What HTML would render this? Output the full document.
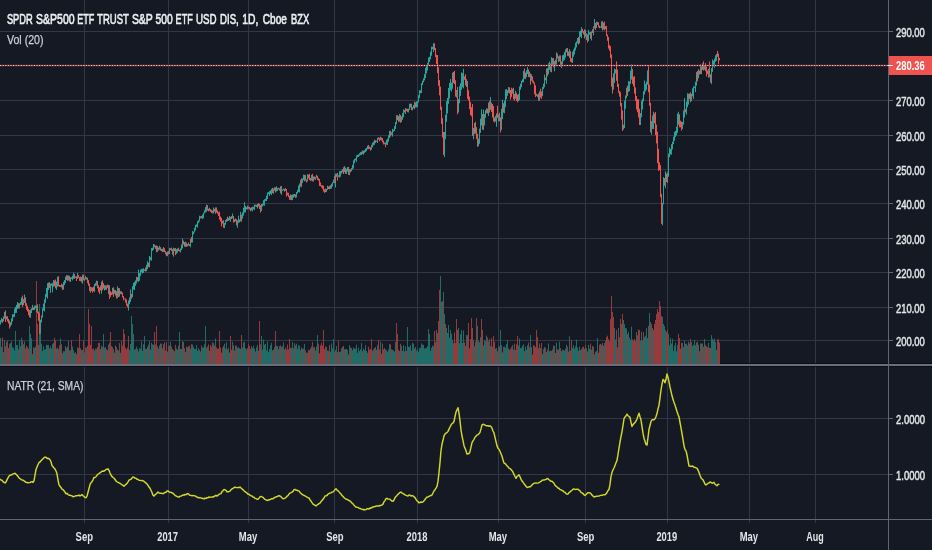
<!DOCTYPE html>
<html lang="en"><head><meta charset="utf-8"><title>SPY chart</title>
<style>html,body{margin:0;padding:0;background:#151924;}body{width:932px;height:550px;overflow:hidden;}</style>
</head><body>
<svg width="932" height="550" viewBox="0 0 932 550" style="display:block">
<rect width="932" height="550" fill="#151924"/>
<defs><filter id="soft" x="-2%" y="-2%" width="104%" height="104%"><feGaussianBlur stdDeviation="0.5 0.3"/></filter></defs>
<g stroke="#333745" stroke-width="1" shape-rendering="crispEdges">
<line x1="84.5" y1="0" x2="84.5" y2="523"/>
<line x1="168.5" y1="0" x2="168.5" y2="523"/>
<line x1="248.5" y1="0" x2="248.5" y2="523"/>
<line x1="334.5" y1="0" x2="334.5" y2="523"/>
<line x1="417.5" y1="0" x2="417.5" y2="523"/>
<line x1="498.5" y1="0" x2="498.5" y2="523"/>
<line x1="585.5" y1="0" x2="585.5" y2="523"/>
<line x1="667.5" y1="0" x2="667.5" y2="523"/>
<line x1="749.5" y1="0" x2="749.5" y2="523"/>
<line x1="815.5" y1="0" x2="815.5" y2="523"/>
<line x1="0" y1="31.5" x2="888" y2="31.5"/>
<line x1="0" y1="100.5" x2="888" y2="100.5"/>
<line x1="0" y1="135.5" x2="888" y2="135.5"/>
<line x1="0" y1="169.5" x2="888" y2="169.5"/>
<line x1="0" y1="203.5" x2="888" y2="203.5"/>
<line x1="0" y1="238.5" x2="888" y2="238.5"/>
<line x1="0" y1="272.5" x2="888" y2="272.5"/>
<line x1="0" y1="307.5" x2="888" y2="307.5"/>
<line x1="0" y1="340.5" x2="888" y2="340.5"/>
<line x1="0" y1="418.5" x2="888" y2="418.5"/>
<line x1="0" y1="474.5" x2="888" y2="474.5"/>
</g>
<rect x="0" y="363" width="932" height="1" fill="#0c0e18"/>
<g filter="url(#soft)">
<rect x="0" y="337.9" width="1" height="26.1" fill="#226c68"/>
<rect x="1" y="347.0" width="1" height="17.0" fill="#226c68"/>
<rect x="2" y="337.5" width="1" height="26.5" fill="#953a3e"/>
<rect x="3" y="352.2" width="1" height="11.8" fill="#226c68"/>
<rect x="4" y="340.1" width="1" height="23.9" fill="#226c68"/>
<rect x="5" y="346.2" width="1" height="17.8" fill="#953a3e"/>
<rect x="6" y="341.8" width="1" height="22.2" fill="#226c68"/>
<rect x="7" y="340.8" width="1" height="23.2" fill="#953a3e"/>
<rect x="8" y="348.1" width="1" height="15.9" fill="#953a3e"/>
<rect x="9" y="344.2" width="1" height="19.8" fill="#953a3e"/>
<rect x="10" y="342.9" width="1" height="21.1" fill="#226c68"/>
<rect x="11" y="341.4" width="1" height="22.6" fill="#226c68"/>
<rect x="12" y="347.4" width="1" height="16.6" fill="#226c68"/>
<rect x="13" y="347.6" width="1" height="16.4" fill="#226c68"/>
<rect x="14" y="350.4" width="1" height="13.6" fill="#226c68"/>
<rect x="15" y="330.9" width="1" height="33.1" fill="#226c68"/>
<rect x="16" y="344.9" width="1" height="19.1" fill="#226c68"/>
<rect x="17" y="345.0" width="1" height="19.0" fill="#226c68"/>
<rect x="18" y="349.3" width="1" height="14.7" fill="#953a3e"/>
<rect x="19" y="340.2" width="1" height="23.8" fill="#226c68"/>
<rect x="20" y="346.3" width="1" height="17.7" fill="#226c68"/>
<rect x="21" y="337.8" width="1" height="26.2" fill="#226c68"/>
<rect x="22" y="340.7" width="1" height="23.3" fill="#953a3e"/>
<rect x="23" y="344.3" width="1" height="19.7" fill="#226c68"/>
<rect x="24" y="341.4" width="1" height="22.6" fill="#226c68"/>
<rect x="25" y="348.4" width="1" height="15.6" fill="#953a3e"/>
<rect x="26" y="345.7" width="1" height="18.3" fill="#953a3e"/>
<rect x="27" y="346.7" width="1" height="17.3" fill="#953a3e"/>
<rect x="28" y="348.9" width="1" height="15.1" fill="#953a3e"/>
<rect x="29" y="326.0" width="1" height="38.0" fill="#226c68"/>
<rect x="30" y="334.0" width="1" height="30.0" fill="#226c68"/>
<rect x="31" y="338.3" width="1" height="25.7" fill="#226c68"/>
<rect x="32" y="354.1" width="1" height="9.9" fill="#226c68"/>
<rect x="33" y="347.2" width="1" height="16.8" fill="#953a3e"/>
<rect x="34" y="348.0" width="1" height="16.0" fill="#226c68"/>
<rect x="35" y="346.6" width="1" height="17.4" fill="#226c68"/>
<rect x="36" y="281.0" width="1" height="83.0" fill="#953a3e"/>
<rect x="37" y="324.0" width="1" height="40.0" fill="#953a3e"/>
<rect x="38" y="344.9" width="1" height="19.1" fill="#953a3e"/>
<rect x="39" y="304.0" width="1" height="60.0" fill="#226c68"/>
<rect x="40" y="326.0" width="1" height="38.0" fill="#226c68"/>
<rect x="41" y="343.7" width="1" height="20.3" fill="#226c68"/>
<rect x="42" y="350.9" width="1" height="13.1" fill="#226c68"/>
<rect x="43" y="346.1" width="1" height="17.9" fill="#226c68"/>
<rect x="44" y="349.7" width="1" height="14.3" fill="#226c68"/>
<rect x="45" y="349.2" width="1" height="14.8" fill="#226c68"/>
<rect x="46" y="344.7" width="1" height="19.3" fill="#226c68"/>
<rect x="47" y="345.1" width="1" height="18.9" fill="#226c68"/>
<rect x="48" y="344.9" width="1" height="19.1" fill="#226c68"/>
<rect x="49" y="348.4" width="1" height="15.6" fill="#953a3e"/>
<rect x="50" y="346.2" width="1" height="17.8" fill="#226c68"/>
<rect x="51" y="348.6" width="1" height="15.4" fill="#226c68"/>
<rect x="52" y="344.1" width="1" height="19.9" fill="#226c68"/>
<rect x="53" y="342.8" width="1" height="21.2" fill="#226c68"/>
<rect x="54" y="337.9" width="1" height="26.1" fill="#953a3e"/>
<rect x="55" y="340.3" width="1" height="23.7" fill="#953a3e"/>
<rect x="56" y="348.6" width="1" height="15.4" fill="#226c68"/>
<rect x="57" y="347.6" width="1" height="16.4" fill="#226c68"/>
<rect x="58" y="349.3" width="1" height="14.7" fill="#953a3e"/>
<rect x="59" y="345.4" width="1" height="18.6" fill="#953a3e"/>
<rect x="60" y="338.3" width="1" height="25.7" fill="#226c68"/>
<rect x="61" y="344.3" width="1" height="19.7" fill="#953a3e"/>
<rect x="62" y="353.1" width="1" height="10.9" fill="#953a3e"/>
<rect x="63" y="351.1" width="1" height="12.9" fill="#226c68"/>
<rect x="64" y="351.3" width="1" height="12.7" fill="#226c68"/>
<rect x="65" y="346.0" width="1" height="18.0" fill="#226c68"/>
<rect x="66" y="347.8" width="1" height="16.2" fill="#226c68"/>
<rect x="67" y="346.8" width="1" height="17.2" fill="#953a3e"/>
<rect x="68" y="340.9" width="1" height="23.1" fill="#226c68"/>
<rect x="69" y="350.3" width="1" height="13.7" fill="#953a3e"/>
<rect x="70" y="350.3" width="1" height="13.7" fill="#226c68"/>
<rect x="71" y="340.0" width="1" height="24.0" fill="#953a3e"/>
<rect x="72" y="346.7" width="1" height="17.3" fill="#226c68"/>
<rect x="73" y="350.1" width="1" height="13.9" fill="#226c68"/>
<rect x="74" y="353.2" width="1" height="10.8" fill="#953a3e"/>
<rect x="75" y="352.1" width="1" height="11.9" fill="#226c68"/>
<rect x="76" y="354.1" width="1" height="9.9" fill="#953a3e"/>
<rect x="77" y="347.6" width="1" height="16.4" fill="#226c68"/>
<rect x="78" y="347.7" width="1" height="16.3" fill="#953a3e"/>
<rect x="79" y="334.0" width="1" height="30.0" fill="#953a3e"/>
<rect x="80" y="348.2" width="1" height="15.8" fill="#226c68"/>
<rect x="81" y="349.9" width="1" height="14.1" fill="#953a3e"/>
<rect x="82" y="350.0" width="1" height="14.0" fill="#226c68"/>
<rect x="83" y="340.3" width="1" height="23.7" fill="#953a3e"/>
<rect x="84" y="352.6" width="1" height="11.4" fill="#226c68"/>
<rect x="85" y="347.2" width="1" height="16.8" fill="#953a3e"/>
<rect x="86" y="347.7" width="1" height="16.3" fill="#226c68"/>
<rect x="87" y="345.7" width="1" height="18.3" fill="#953a3e"/>
<rect x="88" y="309.0" width="1" height="55.0" fill="#953a3e"/>
<rect x="89" y="324.0" width="1" height="40.0" fill="#953a3e"/>
<rect x="90" y="344.9" width="1" height="19.1" fill="#953a3e"/>
<rect x="91" y="326.0" width="1" height="38.0" fill="#953a3e"/>
<rect x="92" y="349.2" width="1" height="14.8" fill="#953a3e"/>
<rect x="93" y="348.4" width="1" height="15.6" fill="#953a3e"/>
<rect x="94" y="350.6" width="1" height="13.4" fill="#226c68"/>
<rect x="95" y="348.5" width="1" height="15.5" fill="#226c68"/>
<rect x="96" y="348.7" width="1" height="15.3" fill="#226c68"/>
<rect x="97" y="347.1" width="1" height="16.9" fill="#953a3e"/>
<rect x="98" y="342.8" width="1" height="21.2" fill="#953a3e"/>
<rect x="99" y="343.0" width="1" height="21.0" fill="#953a3e"/>
<rect x="100" y="349.2" width="1" height="14.8" fill="#953a3e"/>
<rect x="101" y="345.7" width="1" height="18.3" fill="#226c68"/>
<rect x="102" y="346.8" width="1" height="17.2" fill="#953a3e"/>
<rect x="103" y="334.0" width="1" height="30.0" fill="#226c68"/>
<rect x="104" y="347.7" width="1" height="16.3" fill="#226c68"/>
<rect x="105" y="346.9" width="1" height="17.1" fill="#226c68"/>
<rect x="106" y="349.2" width="1" height="14.8" fill="#953a3e"/>
<rect x="107" y="350.2" width="1" height="13.8" fill="#953a3e"/>
<rect x="108" y="344.7" width="1" height="19.3" fill="#226c68"/>
<rect x="109" y="343.0" width="1" height="21.0" fill="#953a3e"/>
<rect x="110" y="332.0" width="1" height="32.0" fill="#953a3e"/>
<rect x="111" y="346.3" width="1" height="17.7" fill="#953a3e"/>
<rect x="112" y="346.9" width="1" height="17.1" fill="#226c68"/>
<rect x="113" y="349.2" width="1" height="14.8" fill="#953a3e"/>
<rect x="114" y="352.7" width="1" height="11.3" fill="#226c68"/>
<rect x="115" y="345.5" width="1" height="18.5" fill="#953a3e"/>
<rect x="116" y="347.1" width="1" height="16.9" fill="#953a3e"/>
<rect x="117" y="349.5" width="1" height="14.5" fill="#226c68"/>
<rect x="118" y="350.6" width="1" height="13.4" fill="#953a3e"/>
<rect x="119" y="343.1" width="1" height="20.9" fill="#226c68"/>
<rect x="120" y="352.7" width="1" height="11.3" fill="#226c68"/>
<rect x="121" y="341.0" width="1" height="23.0" fill="#953a3e"/>
<rect x="122" y="345.6" width="1" height="18.4" fill="#953a3e"/>
<rect x="123" y="329.0" width="1" height="35.0" fill="#953a3e"/>
<rect x="124" y="334.0" width="1" height="30.0" fill="#953a3e"/>
<rect x="125" y="347.9" width="1" height="16.1" fill="#953a3e"/>
<rect x="126" y="349.4" width="1" height="14.6" fill="#953a3e"/>
<rect x="127" y="347.3" width="1" height="16.7" fill="#953a3e"/>
<rect x="128" y="336.0" width="1" height="28.0" fill="#953a3e"/>
<rect x="129" y="350.1" width="1" height="13.9" fill="#226c68"/>
<rect x="130" y="343.9" width="1" height="20.1" fill="#226c68"/>
<rect x="131" y="316.0" width="1" height="48.0" fill="#226c68"/>
<rect x="132" y="324.0" width="1" height="40.0" fill="#226c68"/>
<rect x="133" y="334.0" width="1" height="30.0" fill="#226c68"/>
<rect x="134" y="349.5" width="1" height="14.5" fill="#226c68"/>
<rect x="135" y="349.1" width="1" height="14.9" fill="#226c68"/>
<rect x="136" y="346.6" width="1" height="17.4" fill="#226c68"/>
<rect x="137" y="348.9" width="1" height="15.1" fill="#953a3e"/>
<rect x="138" y="351.4" width="1" height="12.6" fill="#226c68"/>
<rect x="139" y="348.1" width="1" height="15.9" fill="#226c68"/>
<rect x="140" y="348.5" width="1" height="15.5" fill="#226c68"/>
<rect x="141" y="341.2" width="1" height="22.8" fill="#226c68"/>
<rect x="142" y="351.0" width="1" height="13.0" fill="#226c68"/>
<rect x="143" y="344.3" width="1" height="19.7" fill="#226c68"/>
<rect x="144" y="336.0" width="1" height="28.0" fill="#226c68"/>
<rect x="145" y="348.9" width="1" height="15.1" fill="#953a3e"/>
<rect x="146" y="348.8" width="1" height="15.2" fill="#226c68"/>
<rect x="147" y="346.9" width="1" height="17.1" fill="#226c68"/>
<rect x="148" y="344.7" width="1" height="19.3" fill="#953a3e"/>
<rect x="149" y="340.9" width="1" height="23.1" fill="#226c68"/>
<rect x="150" y="349.7" width="1" height="14.3" fill="#226c68"/>
<rect x="151" y="342.8" width="1" height="21.2" fill="#226c68"/>
<rect x="152" y="344.2" width="1" height="19.8" fill="#226c68"/>
<rect x="153" y="344.9" width="1" height="19.1" fill="#226c68"/>
<rect x="154" y="332.0" width="1" height="32.0" fill="#953a3e"/>
<rect x="155" y="344.5" width="1" height="19.5" fill="#953a3e"/>
<rect x="156" y="326.0" width="1" height="38.0" fill="#953a3e"/>
<rect x="157" y="346.5" width="1" height="17.5" fill="#226c68"/>
<rect x="158" y="348.6" width="1" height="15.4" fill="#953a3e"/>
<rect x="159" y="345.4" width="1" height="18.6" fill="#226c68"/>
<rect x="160" y="343.6" width="1" height="20.4" fill="#953a3e"/>
<rect x="161" y="343.6" width="1" height="20.4" fill="#226c68"/>
<rect x="162" y="348.3" width="1" height="15.7" fill="#953a3e"/>
<rect x="163" y="344.1" width="1" height="19.9" fill="#226c68"/>
<rect x="164" y="342.2" width="1" height="21.8" fill="#953a3e"/>
<rect x="165" y="350.5" width="1" height="13.5" fill="#953a3e"/>
<rect x="166" y="342.1" width="1" height="21.9" fill="#953a3e"/>
<rect x="167" y="351.5" width="1" height="12.5" fill="#226c68"/>
<rect x="168" y="345.8" width="1" height="18.2" fill="#953a3e"/>
<rect x="169" y="345.6" width="1" height="18.4" fill="#226c68"/>
<rect x="170" y="342.0" width="1" height="22.0" fill="#226c68"/>
<rect x="171" y="346.7" width="1" height="17.3" fill="#953a3e"/>
<rect x="172" y="349.1" width="1" height="14.9" fill="#953a3e"/>
<rect x="173" y="350.0" width="1" height="14.0" fill="#226c68"/>
<rect x="174" y="351.3" width="1" height="12.7" fill="#226c68"/>
<rect x="175" y="344.9" width="1" height="19.1" fill="#953a3e"/>
<rect x="176" y="348.4" width="1" height="15.6" fill="#226c68"/>
<rect x="177" y="349.8" width="1" height="14.2" fill="#226c68"/>
<rect x="178" y="345.8" width="1" height="18.2" fill="#953a3e"/>
<rect x="179" y="332.0" width="1" height="32.0" fill="#226c68"/>
<rect x="180" y="349.0" width="1" height="15.0" fill="#226c68"/>
<rect x="181" y="349.0" width="1" height="15.0" fill="#226c68"/>
<rect x="182" y="341.2" width="1" height="22.8" fill="#226c68"/>
<rect x="183" y="342.0" width="1" height="22.0" fill="#953a3e"/>
<rect x="184" y="348.1" width="1" height="15.9" fill="#953a3e"/>
<rect x="185" y="352.0" width="1" height="12.0" fill="#226c68"/>
<rect x="186" y="346.6" width="1" height="17.4" fill="#953a3e"/>
<rect x="187" y="347.3" width="1" height="16.7" fill="#226c68"/>
<rect x="188" y="346.4" width="1" height="17.6" fill="#953a3e"/>
<rect x="189" y="345.6" width="1" height="18.4" fill="#226c68"/>
<rect x="190" y="348.6" width="1" height="15.4" fill="#226c68"/>
<rect x="191" y="344.2" width="1" height="19.8" fill="#953a3e"/>
<rect x="192" y="344.5" width="1" height="19.5" fill="#226c68"/>
<rect x="193" y="346.8" width="1" height="17.2" fill="#226c68"/>
<rect x="194" y="348.8" width="1" height="15.2" fill="#226c68"/>
<rect x="195" y="349.0" width="1" height="15.0" fill="#226c68"/>
<rect x="196" y="345.1" width="1" height="18.9" fill="#226c68"/>
<rect x="197" y="350.8" width="1" height="13.2" fill="#226c68"/>
<rect x="198" y="348.0" width="1" height="16.0" fill="#226c68"/>
<rect x="199" y="349.8" width="1" height="14.2" fill="#226c68"/>
<rect x="200" y="351.5" width="1" height="12.5" fill="#226c68"/>
<rect x="201" y="345.4" width="1" height="18.6" fill="#953a3e"/>
<rect x="202" y="347.6" width="1" height="16.4" fill="#226c68"/>
<rect x="203" y="347.4" width="1" height="16.6" fill="#226c68"/>
<rect x="204" y="344.3" width="1" height="19.7" fill="#226c68"/>
<rect x="205" y="326.0" width="1" height="38.0" fill="#226c68"/>
<rect x="206" y="347.7" width="1" height="16.3" fill="#226c68"/>
<rect x="207" y="346.5" width="1" height="17.5" fill="#953a3e"/>
<rect x="208" y="344.5" width="1" height="19.5" fill="#953a3e"/>
<rect x="209" y="350.7" width="1" height="13.3" fill="#226c68"/>
<rect x="210" y="344.9" width="1" height="19.1" fill="#953a3e"/>
<rect x="211" y="346.7" width="1" height="17.3" fill="#953a3e"/>
<rect x="212" y="342.3" width="1" height="21.7" fill="#953a3e"/>
<rect x="213" y="343.2" width="1" height="20.8" fill="#226c68"/>
<rect x="214" y="345.5" width="1" height="18.5" fill="#953a3e"/>
<rect x="215" y="338.5" width="1" height="25.5" fill="#226c68"/>
<rect x="216" y="347.4" width="1" height="16.6" fill="#953a3e"/>
<rect x="217" y="348.8" width="1" height="15.2" fill="#953a3e"/>
<rect x="218" y="348.5" width="1" height="15.5" fill="#953a3e"/>
<rect x="219" y="331.0" width="1" height="33.0" fill="#953a3e"/>
<rect x="220" y="347.5" width="1" height="16.5" fill="#953a3e"/>
<rect x="221" y="352.6" width="1" height="11.4" fill="#953a3e"/>
<rect x="222" y="347.7" width="1" height="16.3" fill="#226c68"/>
<rect x="223" y="345.9" width="1" height="18.1" fill="#953a3e"/>
<rect x="224" y="343.7" width="1" height="20.3" fill="#226c68"/>
<rect x="225" y="348.5" width="1" height="15.5" fill="#226c68"/>
<rect x="226" y="342.1" width="1" height="21.9" fill="#226c68"/>
<rect x="227" y="349.4" width="1" height="14.6" fill="#953a3e"/>
<rect x="228" y="347.8" width="1" height="16.2" fill="#226c68"/>
<rect x="229" y="352.6" width="1" height="11.4" fill="#226c68"/>
<rect x="230" y="336.0" width="1" height="28.0" fill="#953a3e"/>
<rect x="231" y="349.8" width="1" height="14.2" fill="#953a3e"/>
<rect x="232" y="341.7" width="1" height="22.3" fill="#226c68"/>
<rect x="233" y="345.5" width="1" height="18.5" fill="#953a3e"/>
<rect x="234" y="350.6" width="1" height="13.4" fill="#953a3e"/>
<rect x="235" y="345.5" width="1" height="18.5" fill="#226c68"/>
<rect x="236" y="345.7" width="1" height="18.3" fill="#953a3e"/>
<rect x="237" y="348.1" width="1" height="15.9" fill="#226c68"/>
<rect x="238" y="347.2" width="1" height="16.8" fill="#226c68"/>
<rect x="239" y="348.3" width="1" height="15.7" fill="#226c68"/>
<rect x="240" y="349.0" width="1" height="15.0" fill="#226c68"/>
<rect x="241" y="335.0" width="1" height="29.0" fill="#953a3e"/>
<rect x="242" y="347.6" width="1" height="16.4" fill="#226c68"/>
<rect x="243" y="342.5" width="1" height="21.5" fill="#226c68"/>
<rect x="244" y="341.9" width="1" height="22.1" fill="#226c68"/>
<rect x="245" y="348.2" width="1" height="15.8" fill="#226c68"/>
<rect x="246" y="349.5" width="1" height="14.5" fill="#953a3e"/>
<rect x="247" y="348.0" width="1" height="16.0" fill="#226c68"/>
<rect x="248" y="344.1" width="1" height="19.9" fill="#953a3e"/>
<rect x="249" y="346.1" width="1" height="17.9" fill="#953a3e"/>
<rect x="250" y="349.1" width="1" height="14.9" fill="#226c68"/>
<rect x="251" y="346.1" width="1" height="17.9" fill="#953a3e"/>
<rect x="252" y="348.0" width="1" height="16.0" fill="#226c68"/>
<rect x="253" y="345.6" width="1" height="18.4" fill="#226c68"/>
<rect x="254" y="348.6" width="1" height="15.4" fill="#226c68"/>
<rect x="255" y="351.5" width="1" height="12.5" fill="#953a3e"/>
<rect x="256" y="347.2" width="1" height="16.8" fill="#226c68"/>
<rect x="257" y="344.8" width="1" height="19.2" fill="#226c68"/>
<rect x="258" y="350.7" width="1" height="13.3" fill="#953a3e"/>
<rect x="259" y="321.0" width="1" height="43.0" fill="#953a3e"/>
<rect x="260" y="344.4" width="1" height="19.6" fill="#953a3e"/>
<rect x="261" y="336.0" width="1" height="28.0" fill="#226c68"/>
<rect x="262" y="349.5" width="1" height="14.5" fill="#226c68"/>
<rect x="263" y="339.5" width="1" height="24.5" fill="#226c68"/>
<rect x="264" y="344.7" width="1" height="19.3" fill="#226c68"/>
<rect x="265" y="343.9" width="1" height="20.1" fill="#226c68"/>
<rect x="266" y="350.4" width="1" height="13.6" fill="#226c68"/>
<rect x="267" y="341.5" width="1" height="22.5" fill="#226c68"/>
<rect x="268" y="352.2" width="1" height="11.8" fill="#226c68"/>
<rect x="269" y="349.2" width="1" height="14.8" fill="#226c68"/>
<rect x="270" y="345.2" width="1" height="18.8" fill="#226c68"/>
<rect x="271" y="342.9" width="1" height="21.1" fill="#226c68"/>
<rect x="272" y="350.4" width="1" height="13.6" fill="#953a3e"/>
<rect x="273" y="349.7" width="1" height="14.3" fill="#226c68"/>
<rect x="274" y="347.1" width="1" height="16.9" fill="#226c68"/>
<rect x="275" y="331.0" width="1" height="33.0" fill="#953a3e"/>
<rect x="276" y="345.7" width="1" height="18.3" fill="#226c68"/>
<rect x="277" y="346.0" width="1" height="18.0" fill="#226c68"/>
<rect x="278" y="349.2" width="1" height="14.8" fill="#226c68"/>
<rect x="279" y="346.1" width="1" height="17.9" fill="#953a3e"/>
<rect x="280" y="345.3" width="1" height="18.7" fill="#953a3e"/>
<rect x="281" y="346.9" width="1" height="17.1" fill="#226c68"/>
<rect x="282" y="346.2" width="1" height="17.8" fill="#226c68"/>
<rect x="283" y="342.5" width="1" height="21.5" fill="#226c68"/>
<rect x="284" y="349.4" width="1" height="14.6" fill="#226c68"/>
<rect x="285" y="347.5" width="1" height="16.5" fill="#953a3e"/>
<rect x="286" y="349.6" width="1" height="14.4" fill="#953a3e"/>
<rect x="287" y="344.5" width="1" height="19.5" fill="#953a3e"/>
<rect x="288" y="349.3" width="1" height="14.7" fill="#953a3e"/>
<rect x="289" y="339.0" width="1" height="25.0" fill="#953a3e"/>
<rect x="290" y="347.7" width="1" height="16.3" fill="#226c68"/>
<rect x="291" y="347.9" width="1" height="16.1" fill="#953a3e"/>
<rect x="292" y="341.9" width="1" height="22.1" fill="#226c68"/>
<rect x="293" y="348.4" width="1" height="15.6" fill="#226c68"/>
<rect x="294" y="343.2" width="1" height="20.8" fill="#226c68"/>
<rect x="295" y="345.5" width="1" height="18.5" fill="#953a3e"/>
<rect x="296" y="343.7" width="1" height="20.3" fill="#226c68"/>
<rect x="297" y="348.8" width="1" height="15.2" fill="#226c68"/>
<rect x="298" y="345.2" width="1" height="18.8" fill="#226c68"/>
<rect x="299" y="345.8" width="1" height="18.2" fill="#226c68"/>
<rect x="300" y="350.1" width="1" height="13.9" fill="#226c68"/>
<rect x="301" y="347.5" width="1" height="16.5" fill="#953a3e"/>
<rect x="302" y="348.7" width="1" height="15.3" fill="#226c68"/>
<rect x="303" y="348.4" width="1" height="15.6" fill="#226c68"/>
<rect x="304" y="343.9" width="1" height="20.1" fill="#226c68"/>
<rect x="305" y="350.4" width="1" height="13.6" fill="#953a3e"/>
<rect x="306" y="352.7" width="1" height="11.3" fill="#953a3e"/>
<rect x="307" y="352.8" width="1" height="11.2" fill="#226c68"/>
<rect x="308" y="349.7" width="1" height="14.3" fill="#953a3e"/>
<rect x="309" y="350.2" width="1" height="13.8" fill="#953a3e"/>
<rect x="310" y="348.3" width="1" height="15.7" fill="#953a3e"/>
<rect x="311" y="346.5" width="1" height="17.5" fill="#226c68"/>
<rect x="312" y="342.0" width="1" height="22.0" fill="#953a3e"/>
<rect x="313" y="347.4" width="1" height="16.6" fill="#226c68"/>
<rect x="314" y="346.9" width="1" height="17.1" fill="#953a3e"/>
<rect x="315" y="350.4" width="1" height="13.6" fill="#226c68"/>
<rect x="316" y="346.5" width="1" height="17.5" fill="#226c68"/>
<rect x="317" y="335.0" width="1" height="29.0" fill="#226c68"/>
<rect x="318" y="343.7" width="1" height="20.3" fill="#953a3e"/>
<rect x="319" y="353.3" width="1" height="10.7" fill="#953a3e"/>
<rect x="320" y="345.4" width="1" height="18.6" fill="#953a3e"/>
<rect x="321" y="342.7" width="1" height="21.3" fill="#953a3e"/>
<rect x="322" y="345.6" width="1" height="18.4" fill="#953a3e"/>
<rect x="323" y="330.0" width="1" height="34.0" fill="#953a3e"/>
<rect x="324" y="349.2" width="1" height="14.8" fill="#953a3e"/>
<rect x="325" y="346.5" width="1" height="17.5" fill="#953a3e"/>
<rect x="326" y="347.0" width="1" height="17.0" fill="#226c68"/>
<rect x="327" y="350.6" width="1" height="13.4" fill="#226c68"/>
<rect x="328" y="350.8" width="1" height="13.2" fill="#953a3e"/>
<rect x="329" y="345.1" width="1" height="18.9" fill="#953a3e"/>
<rect x="330" y="351.9" width="1" height="12.1" fill="#226c68"/>
<rect x="331" y="343.4" width="1" height="20.6" fill="#226c68"/>
<rect x="332" y="348.3" width="1" height="15.7" fill="#226c68"/>
<rect x="333" y="339.0" width="1" height="25.0" fill="#226c68"/>
<rect x="334" y="351.9" width="1" height="12.1" fill="#953a3e"/>
<rect x="335" y="350.0" width="1" height="14.0" fill="#226c68"/>
<rect x="336" y="346.1" width="1" height="17.9" fill="#226c68"/>
<rect x="337" y="352.2" width="1" height="11.8" fill="#953a3e"/>
<rect x="338" y="340.7" width="1" height="23.3" fill="#953a3e"/>
<rect x="339" y="352.0" width="1" height="12.0" fill="#226c68"/>
<rect x="340" y="351.6" width="1" height="12.4" fill="#226c68"/>
<rect x="341" y="348.2" width="1" height="15.8" fill="#226c68"/>
<rect x="342" y="346.8" width="1" height="17.2" fill="#226c68"/>
<rect x="343" y="346.0" width="1" height="18.0" fill="#953a3e"/>
<rect x="344" y="349.4" width="1" height="14.6" fill="#226c68"/>
<rect x="345" y="349.0" width="1" height="15.0" fill="#953a3e"/>
<rect x="346" y="349.0" width="1" height="15.0" fill="#226c68"/>
<rect x="347" y="350.0" width="1" height="14.0" fill="#226c68"/>
<rect x="348" y="354.5" width="1" height="9.5" fill="#953a3e"/>
<rect x="349" y="345.2" width="1" height="18.8" fill="#226c68"/>
<rect x="350" y="347.6" width="1" height="16.4" fill="#953a3e"/>
<rect x="351" y="347.9" width="1" height="16.1" fill="#226c68"/>
<rect x="352" y="350.1" width="1" height="13.9" fill="#226c68"/>
<rect x="353" y="347.6" width="1" height="16.4" fill="#226c68"/>
<rect x="354" y="348.4" width="1" height="15.6" fill="#226c68"/>
<rect x="355" y="348.6" width="1" height="15.4" fill="#226c68"/>
<rect x="356" y="344.6" width="1" height="19.4" fill="#226c68"/>
<rect x="357" y="352.8" width="1" height="11.2" fill="#226c68"/>
<rect x="358" y="347.6" width="1" height="16.4" fill="#226c68"/>
<rect x="359" y="351.2" width="1" height="12.8" fill="#226c68"/>
<rect x="360" y="349.3" width="1" height="14.7" fill="#226c68"/>
<rect x="361" y="343.1" width="1" height="20.9" fill="#226c68"/>
<rect x="362" y="351.3" width="1" height="12.7" fill="#953a3e"/>
<rect x="363" y="348.6" width="1" height="15.4" fill="#226c68"/>
<rect x="364" y="350.0" width="1" height="14.0" fill="#226c68"/>
<rect x="365" y="345.2" width="1" height="18.8" fill="#226c68"/>
<rect x="366" y="351.0" width="1" height="13.0" fill="#226c68"/>
<rect x="367" y="352.7" width="1" height="11.3" fill="#226c68"/>
<rect x="368" y="346.7" width="1" height="17.3" fill="#953a3e"/>
<rect x="369" y="349.4" width="1" height="14.6" fill="#953a3e"/>
<rect x="370" y="349.3" width="1" height="14.7" fill="#953a3e"/>
<rect x="371" y="339.0" width="1" height="25.0" fill="#953a3e"/>
<rect x="372" y="350.8" width="1" height="13.2" fill="#226c68"/>
<rect x="373" y="349.4" width="1" height="14.6" fill="#226c68"/>
<rect x="374" y="347.9" width="1" height="16.1" fill="#226c68"/>
<rect x="375" y="347.0" width="1" height="17.0" fill="#953a3e"/>
<rect x="376" y="349.8" width="1" height="14.2" fill="#953a3e"/>
<rect x="377" y="344.9" width="1" height="19.1" fill="#226c68"/>
<rect x="378" y="339.9" width="1" height="24.1" fill="#953a3e"/>
<rect x="379" y="349.5" width="1" height="14.5" fill="#953a3e"/>
<rect x="380" y="341.6" width="1" height="22.4" fill="#226c68"/>
<rect x="381" y="353.6" width="1" height="10.4" fill="#953a3e"/>
<rect x="382" y="343.5" width="1" height="20.5" fill="#953a3e"/>
<rect x="383" y="349.3" width="1" height="14.7" fill="#953a3e"/>
<rect x="384" y="347.9" width="1" height="16.1" fill="#226c68"/>
<rect x="385" y="349.3" width="1" height="14.7" fill="#953a3e"/>
<rect x="386" y="350.1" width="1" height="13.9" fill="#226c68"/>
<rect x="387" y="351.7" width="1" height="12.3" fill="#226c68"/>
<rect x="388" y="349.5" width="1" height="14.5" fill="#226c68"/>
<rect x="389" y="343.9" width="1" height="20.1" fill="#226c68"/>
<rect x="390" y="344.5" width="1" height="19.5" fill="#953a3e"/>
<rect x="391" y="349.4" width="1" height="14.6" fill="#226c68"/>
<rect x="392" y="349.9" width="1" height="14.1" fill="#226c68"/>
<rect x="393" y="350.3" width="1" height="13.7" fill="#226c68"/>
<rect x="394" y="351.6" width="1" height="12.4" fill="#226c68"/>
<rect x="395" y="341.9" width="1" height="22.1" fill="#226c68"/>
<rect x="396" y="323.0" width="1" height="41.0" fill="#953a3e"/>
<rect x="397" y="334.0" width="1" height="30.0" fill="#953a3e"/>
<rect x="398" y="349.8" width="1" height="14.2" fill="#953a3e"/>
<rect x="399" y="351.1" width="1" height="12.9" fill="#226c68"/>
<rect x="400" y="343.8" width="1" height="20.2" fill="#953a3e"/>
<rect x="401" y="345.8" width="1" height="18.2" fill="#226c68"/>
<rect x="402" y="351.0" width="1" height="13.0" fill="#226c68"/>
<rect x="403" y="345.1" width="1" height="18.9" fill="#226c68"/>
<rect x="404" y="351.3" width="1" height="12.7" fill="#953a3e"/>
<rect x="405" y="346.3" width="1" height="17.7" fill="#226c68"/>
<rect x="406" y="351.0" width="1" height="13.0" fill="#953a3e"/>
<rect x="407" y="327.0" width="1" height="37.0" fill="#226c68"/>
<rect x="408" y="346.8" width="1" height="17.2" fill="#226c68"/>
<rect x="409" y="347.0" width="1" height="17.0" fill="#226c68"/>
<rect x="410" y="345.0" width="1" height="19.0" fill="#226c68"/>
<rect x="411" y="350.7" width="1" height="13.3" fill="#953a3e"/>
<rect x="412" y="342.8" width="1" height="21.2" fill="#226c68"/>
<rect x="413" y="343.7" width="1" height="20.3" fill="#226c68"/>
<rect x="414" y="348.4" width="1" height="15.6" fill="#953a3e"/>
<rect x="415" y="346.9" width="1" height="17.1" fill="#226c68"/>
<rect x="416" y="350.5" width="1" height="13.5" fill="#226c68"/>
<rect x="417" y="348.8" width="1" height="15.2" fill="#226c68"/>
<rect x="418" y="351.8" width="1" height="12.2" fill="#226c68"/>
<rect x="419" y="348.1" width="1" height="15.9" fill="#226c68"/>
<rect x="420" y="347.7" width="1" height="16.3" fill="#226c68"/>
<rect x="421" y="343.4" width="1" height="20.6" fill="#226c68"/>
<rect x="422" y="344.7" width="1" height="19.3" fill="#226c68"/>
<rect x="423" y="344.9" width="1" height="19.1" fill="#226c68"/>
<rect x="424" y="348.6" width="1" height="15.4" fill="#226c68"/>
<rect x="425" y="347.9" width="1" height="16.1" fill="#226c68"/>
<rect x="426" y="348.1" width="1" height="15.9" fill="#226c68"/>
<rect x="427" y="346.0" width="1" height="18.0" fill="#226c68"/>
<rect x="428" y="329.0" width="1" height="35.0" fill="#226c68"/>
<rect x="429" y="334.0" width="1" height="30.0" fill="#226c68"/>
<rect x="430" y="350.7" width="1" height="13.3" fill="#226c68"/>
<rect x="431" y="347.6" width="1" height="16.4" fill="#226c68"/>
<rect x="432" y="345.6" width="1" height="18.4" fill="#226c68"/>
<rect x="433" y="346.2" width="1" height="17.8" fill="#226c68"/>
<rect x="434" y="331.0" width="1" height="33.0" fill="#953a3e"/>
<rect x="435" y="342.3" width="1" height="21.7" fill="#953a3e"/>
<rect x="436" y="330.0" width="1" height="34.0" fill="#226c68"/>
<rect x="437" y="333.1" width="1" height="30.9" fill="#953a3e"/>
<rect x="438" y="321.0" width="1" height="43.0" fill="#953a3e"/>
<rect x="439" y="290.0" width="1" height="74.0" fill="#953a3e"/>
<rect x="440" y="276.0" width="1" height="88.0" fill="#226c68"/>
<rect x="441" y="302.0" width="1" height="62.0" fill="#226c68"/>
<rect x="442" y="301.0" width="1" height="63.0" fill="#953a3e"/>
<rect x="443" y="292.0" width="1" height="72.0" fill="#226c68"/>
<rect x="444" y="314.0" width="1" height="50.0" fill="#226c68"/>
<rect x="445" y="324.0" width="1" height="40.0" fill="#953a3e"/>
<rect x="446" y="328.0" width="1" height="36.0" fill="#226c68"/>
<rect x="447" y="332.9" width="1" height="31.1" fill="#226c68"/>
<rect x="448" y="325.0" width="1" height="39.0" fill="#226c68"/>
<rect x="449" y="337.7" width="1" height="26.3" fill="#226c68"/>
<rect x="450" y="330.0" width="1" height="34.0" fill="#226c68"/>
<rect x="451" y="333.8" width="1" height="30.2" fill="#226c68"/>
<rect x="452" y="339.8" width="1" height="24.2" fill="#226c68"/>
<rect x="453" y="343.2" width="1" height="20.8" fill="#953a3e"/>
<rect x="454" y="332.4" width="1" height="31.6" fill="#953a3e"/>
<rect x="455" y="342.7" width="1" height="21.3" fill="#953a3e"/>
<rect x="456" y="319.0" width="1" height="45.0" fill="#953a3e"/>
<rect x="457" y="330.0" width="1" height="34.0" fill="#953a3e"/>
<rect x="458" y="327.9" width="1" height="36.1" fill="#226c68"/>
<rect x="459" y="343.2" width="1" height="20.8" fill="#226c68"/>
<rect x="460" y="334.2" width="1" height="29.8" fill="#226c68"/>
<rect x="461" y="330.2" width="1" height="33.8" fill="#226c68"/>
<rect x="462" y="343.0" width="1" height="21.0" fill="#226c68"/>
<rect x="463" y="330.4" width="1" height="33.6" fill="#226c68"/>
<rect x="464" y="342.4" width="1" height="21.6" fill="#953a3e"/>
<rect x="465" y="346.0" width="1" height="18.0" fill="#953a3e"/>
<rect x="466" y="335.1" width="1" height="28.9" fill="#226c68"/>
<rect x="467" y="335.2" width="1" height="28.8" fill="#953a3e"/>
<rect x="468" y="323.0" width="1" height="41.0" fill="#953a3e"/>
<rect x="469" y="348.5" width="1" height="15.5" fill="#953a3e"/>
<rect x="470" y="339.2" width="1" height="24.8" fill="#953a3e"/>
<rect x="471" y="318.0" width="1" height="46.0" fill="#953a3e"/>
<rect x="472" y="328.0" width="1" height="36.0" fill="#953a3e"/>
<rect x="473" y="340.3" width="1" height="23.7" fill="#226c68"/>
<rect x="474" y="346.3" width="1" height="17.7" fill="#226c68"/>
<rect x="475" y="341.6" width="1" height="22.4" fill="#953a3e"/>
<rect x="476" y="318.0" width="1" height="46.0" fill="#953a3e"/>
<rect x="477" y="326.0" width="1" height="38.0" fill="#226c68"/>
<rect x="478" y="340.8" width="1" height="23.2" fill="#226c68"/>
<rect x="479" y="342.3" width="1" height="21.7" fill="#226c68"/>
<rect x="480" y="337.2" width="1" height="26.8" fill="#226c68"/>
<rect x="481" y="319.0" width="1" height="45.0" fill="#953a3e"/>
<rect x="482" y="330.0" width="1" height="34.0" fill="#953a3e"/>
<rect x="483" y="345.4" width="1" height="18.6" fill="#226c68"/>
<rect x="484" y="340.6" width="1" height="23.4" fill="#226c68"/>
<rect x="485" y="341.3" width="1" height="22.7" fill="#226c68"/>
<rect x="486" y="335.5" width="1" height="28.5" fill="#226c68"/>
<rect x="487" y="337.5" width="1" height="26.5" fill="#953a3e"/>
<rect x="488" y="341.3" width="1" height="22.7" fill="#226c68"/>
<rect x="489" y="338.8" width="1" height="25.2" fill="#953a3e"/>
<rect x="490" y="346.0" width="1" height="18.0" fill="#226c68"/>
<rect x="491" y="338.2" width="1" height="25.8" fill="#953a3e"/>
<rect x="492" y="346.5" width="1" height="17.5" fill="#953a3e"/>
<rect x="493" y="336.0" width="1" height="28.0" fill="#953a3e"/>
<rect x="494" y="341.8" width="1" height="22.2" fill="#953a3e"/>
<rect x="495" y="348.6" width="1" height="15.4" fill="#226c68"/>
<rect x="496" y="348.1" width="1" height="15.9" fill="#226c68"/>
<rect x="497" y="351.2" width="1" height="12.8" fill="#953a3e"/>
<rect x="498" y="345.7" width="1" height="18.3" fill="#226c68"/>
<rect x="499" y="346.7" width="1" height="17.3" fill="#953a3e"/>
<rect x="500" y="330.0" width="1" height="34.0" fill="#226c68"/>
<rect x="501" y="345.0" width="1" height="19.0" fill="#226c68"/>
<rect x="502" y="352.5" width="1" height="11.5" fill="#226c68"/>
<rect x="503" y="346.9" width="1" height="17.1" fill="#953a3e"/>
<rect x="504" y="346.5" width="1" height="17.5" fill="#226c68"/>
<rect x="505" y="347.7" width="1" height="16.3" fill="#226c68"/>
<rect x="506" y="344.1" width="1" height="19.9" fill="#226c68"/>
<rect x="507" y="340.1" width="1" height="23.9" fill="#226c68"/>
<rect x="508" y="348.3" width="1" height="15.7" fill="#226c68"/>
<rect x="509" y="349.8" width="1" height="14.2" fill="#953a3e"/>
<rect x="510" y="348.9" width="1" height="15.1" fill="#953a3e"/>
<rect x="511" y="346.7" width="1" height="17.3" fill="#953a3e"/>
<rect x="512" y="345.0" width="1" height="19.0" fill="#226c68"/>
<rect x="513" y="349.7" width="1" height="14.3" fill="#953a3e"/>
<rect x="514" y="343.5" width="1" height="20.5" fill="#953a3e"/>
<rect x="515" y="350.1" width="1" height="13.9" fill="#226c68"/>
<rect x="516" y="344.3" width="1" height="19.7" fill="#953a3e"/>
<rect x="517" y="336.0" width="1" height="28.0" fill="#953a3e"/>
<rect x="518" y="345.6" width="1" height="18.4" fill="#226c68"/>
<rect x="519" y="338.6" width="1" height="25.4" fill="#226c68"/>
<rect x="520" y="348.1" width="1" height="15.9" fill="#226c68"/>
<rect x="521" y="347.8" width="1" height="16.2" fill="#226c68"/>
<rect x="522" y="345.7" width="1" height="18.3" fill="#226c68"/>
<rect x="523" y="344.3" width="1" height="19.7" fill="#226c68"/>
<rect x="524" y="351.1" width="1" height="12.9" fill="#953a3e"/>
<rect x="525" y="346.5" width="1" height="17.5" fill="#226c68"/>
<rect x="526" y="349.6" width="1" height="14.4" fill="#226c68"/>
<rect x="527" y="345.3" width="1" height="18.7" fill="#226c68"/>
<rect x="528" y="342.5" width="1" height="21.5" fill="#953a3e"/>
<rect x="529" y="347.3" width="1" height="16.7" fill="#226c68"/>
<rect x="530" y="335.0" width="1" height="29.0" fill="#226c68"/>
<rect x="531" y="347.0" width="1" height="17.0" fill="#226c68"/>
<rect x="532" y="354.7" width="1" height="9.3" fill="#953a3e"/>
<rect x="533" y="345.0" width="1" height="19.0" fill="#953a3e"/>
<rect x="534" y="345.8" width="1" height="18.2" fill="#953a3e"/>
<rect x="535" y="347.1" width="1" height="16.9" fill="#953a3e"/>
<rect x="536" y="330.0" width="1" height="34.0" fill="#953a3e"/>
<rect x="537" y="337.0" width="1" height="27.0" fill="#953a3e"/>
<rect x="538" y="348.3" width="1" height="15.7" fill="#953a3e"/>
<rect x="539" y="343.5" width="1" height="20.5" fill="#226c68"/>
<rect x="540" y="348.1" width="1" height="15.9" fill="#953a3e"/>
<rect x="541" y="343.0" width="1" height="21.0" fill="#953a3e"/>
<rect x="542" y="354.1" width="1" height="9.9" fill="#226c68"/>
<rect x="543" y="349.2" width="1" height="14.8" fill="#226c68"/>
<rect x="544" y="346.9" width="1" height="17.1" fill="#226c68"/>
<rect x="545" y="347.8" width="1" height="16.2" fill="#953a3e"/>
<rect x="546" y="352.2" width="1" height="11.8" fill="#226c68"/>
<rect x="547" y="349.7" width="1" height="14.3" fill="#953a3e"/>
<rect x="548" y="343.4" width="1" height="20.6" fill="#226c68"/>
<rect x="549" y="351.4" width="1" height="12.6" fill="#226c68"/>
<rect x="550" y="350.6" width="1" height="13.4" fill="#953a3e"/>
<rect x="551" y="350.9" width="1" height="13.1" fill="#226c68"/>
<rect x="552" y="349.4" width="1" height="14.6" fill="#226c68"/>
<rect x="553" y="345.7" width="1" height="18.3" fill="#953a3e"/>
<rect x="554" y="345.8" width="1" height="18.2" fill="#226c68"/>
<rect x="555" y="353.0" width="1" height="11.0" fill="#953a3e"/>
<rect x="556" y="342.6" width="1" height="21.4" fill="#226c68"/>
<rect x="557" y="349.5" width="1" height="14.5" fill="#953a3e"/>
<rect x="558" y="349.5" width="1" height="14.5" fill="#953a3e"/>
<rect x="559" y="341.7" width="1" height="22.3" fill="#226c68"/>
<rect x="560" y="348.1" width="1" height="15.9" fill="#953a3e"/>
<rect x="561" y="351.2" width="1" height="12.8" fill="#226c68"/>
<rect x="562" y="349.7" width="1" height="14.3" fill="#226c68"/>
<rect x="563" y="349.9" width="1" height="14.1" fill="#226c68"/>
<rect x="564" y="350.7" width="1" height="13.3" fill="#226c68"/>
<rect x="565" y="348.8" width="1" height="15.2" fill="#226c68"/>
<rect x="566" y="344.8" width="1" height="19.2" fill="#226c68"/>
<rect x="567" y="346.7" width="1" height="17.3" fill="#953a3e"/>
<rect x="568" y="351.6" width="1" height="12.4" fill="#953a3e"/>
<rect x="569" y="336.3" width="1" height="27.7" fill="#226c68"/>
<rect x="570" y="350.6" width="1" height="13.4" fill="#953a3e"/>
<rect x="571" y="340.0" width="1" height="24.0" fill="#953a3e"/>
<rect x="572" y="347.7" width="1" height="16.3" fill="#226c68"/>
<rect x="573" y="345.2" width="1" height="18.8" fill="#226c68"/>
<rect x="574" y="348.8" width="1" height="15.2" fill="#226c68"/>
<rect x="575" y="346.3" width="1" height="17.7" fill="#226c68"/>
<rect x="576" y="339.7" width="1" height="24.3" fill="#226c68"/>
<rect x="577" y="347.5" width="1" height="16.5" fill="#226c68"/>
<rect x="578" y="350.8" width="1" height="13.2" fill="#953a3e"/>
<rect x="579" y="346.7" width="1" height="17.3" fill="#226c68"/>
<rect x="580" y="350.1" width="1" height="13.9" fill="#226c68"/>
<rect x="581" y="348.9" width="1" height="15.1" fill="#226c68"/>
<rect x="582" y="347.2" width="1" height="16.8" fill="#953a3e"/>
<rect x="583" y="346.7" width="1" height="17.3" fill="#953a3e"/>
<rect x="584" y="348.7" width="1" height="15.3" fill="#226c68"/>
<rect x="585" y="344.9" width="1" height="19.1" fill="#953a3e"/>
<rect x="586" y="348.4" width="1" height="15.6" fill="#226c68"/>
<rect x="587" y="351.4" width="1" height="12.6" fill="#953a3e"/>
<rect x="588" y="344.8" width="1" height="19.2" fill="#226c68"/>
<rect x="589" y="348.9" width="1" height="15.1" fill="#226c68"/>
<rect x="590" y="343.6" width="1" height="20.4" fill="#953a3e"/>
<rect x="591" y="349.7" width="1" height="14.3" fill="#226c68"/>
<rect x="592" y="345.9" width="1" height="18.1" fill="#953a3e"/>
<rect x="593" y="346.8" width="1" height="17.2" fill="#226c68"/>
<rect x="594" y="354.3" width="1" height="9.7" fill="#226c68"/>
<rect x="595" y="351.8" width="1" height="12.2" fill="#953a3e"/>
<rect x="596" y="350.9" width="1" height="13.1" fill="#226c68"/>
<rect x="597" y="338.0" width="1" height="26.0" fill="#226c68"/>
<rect x="598" y="352.7" width="1" height="11.3" fill="#953a3e"/>
<rect x="599" y="344.7" width="1" height="19.3" fill="#953a3e"/>
<rect x="600" y="344.0" width="1" height="20.0" fill="#953a3e"/>
<rect x="601" y="344.8" width="1" height="19.2" fill="#226c68"/>
<rect x="602" y="342.8" width="1" height="21.2" fill="#953a3e"/>
<rect x="603" y="346.0" width="1" height="18.0" fill="#226c68"/>
<rect x="604" y="343.0" width="1" height="21.0" fill="#953a3e"/>
<rect x="605" y="340.7" width="1" height="23.3" fill="#226c68"/>
<rect x="606" y="337.0" width="1" height="27.0" fill="#953a3e"/>
<rect x="607" y="335.7" width="1" height="28.3" fill="#953a3e"/>
<rect x="608" y="339.1" width="1" height="24.9" fill="#953a3e"/>
<rect x="609" y="341.2" width="1" height="22.8" fill="#953a3e"/>
<rect x="610" y="319.0" width="1" height="45.0" fill="#953a3e"/>
<rect x="611" y="296.0" width="1" height="68.0" fill="#953a3e"/>
<rect x="612" y="312.0" width="1" height="52.0" fill="#953a3e"/>
<rect x="613" y="317.0" width="1" height="47.0" fill="#953a3e"/>
<rect x="614" y="328.0" width="1" height="36.0" fill="#226c68"/>
<rect x="615" y="339.5" width="1" height="24.5" fill="#226c68"/>
<rect x="616" y="330.0" width="1" height="34.0" fill="#953a3e"/>
<rect x="617" y="347.4" width="1" height="16.6" fill="#953a3e"/>
<rect x="618" y="328.0" width="1" height="36.0" fill="#226c68"/>
<rect x="619" y="337.3" width="1" height="26.7" fill="#953a3e"/>
<rect x="620" y="319.0" width="1" height="45.0" fill="#953a3e"/>
<rect x="621" y="324.0" width="1" height="40.0" fill="#953a3e"/>
<rect x="622" y="314.0" width="1" height="50.0" fill="#953a3e"/>
<rect x="623" y="320.0" width="1" height="44.0" fill="#226c68"/>
<rect x="624" y="324.0" width="1" height="40.0" fill="#226c68"/>
<rect x="625" y="328.0" width="1" height="36.0" fill="#226c68"/>
<rect x="626" y="328.6" width="1" height="35.4" fill="#226c68"/>
<rect x="627" y="334.0" width="1" height="30.0" fill="#953a3e"/>
<rect x="628" y="331.8" width="1" height="32.2" fill="#226c68"/>
<rect x="629" y="337.5" width="1" height="26.5" fill="#226c68"/>
<rect x="630" y="339.9" width="1" height="24.1" fill="#226c68"/>
<rect x="631" y="326.6" width="1" height="37.4" fill="#226c68"/>
<rect x="632" y="339.5" width="1" height="24.5" fill="#953a3e"/>
<rect x="633" y="340.7" width="1" height="23.3" fill="#953a3e"/>
<rect x="634" y="338.8" width="1" height="25.2" fill="#953a3e"/>
<rect x="635" y="341.1" width="1" height="22.9" fill="#953a3e"/>
<rect x="636" y="332.0" width="1" height="32.0" fill="#226c68"/>
<rect x="637" y="335.4" width="1" height="28.6" fill="#953a3e"/>
<rect x="638" y="329.5" width="1" height="34.5" fill="#953a3e"/>
<rect x="639" y="330.0" width="1" height="34.0" fill="#953a3e"/>
<rect x="640" y="341.0" width="1" height="23.0" fill="#226c68"/>
<rect x="641" y="331.8" width="1" height="32.2" fill="#226c68"/>
<rect x="642" y="340.4" width="1" height="23.6" fill="#226c68"/>
<rect x="643" y="332.0" width="1" height="32.0" fill="#953a3e"/>
<rect x="644" y="337.2" width="1" height="26.8" fill="#226c68"/>
<rect x="645" y="335.7" width="1" height="28.3" fill="#226c68"/>
<rect x="646" y="328.1" width="1" height="35.9" fill="#226c68"/>
<rect x="647" y="338.2" width="1" height="25.8" fill="#226c68"/>
<rect x="648" y="326.0" width="1" height="38.0" fill="#953a3e"/>
<rect x="649" y="313.0" width="1" height="51.0" fill="#226c68"/>
<rect x="650" y="322.0" width="1" height="42.0" fill="#953a3e"/>
<rect x="651" y="324.0" width="1" height="40.0" fill="#226c68"/>
<rect x="652" y="328.0" width="1" height="36.0" fill="#953a3e"/>
<rect x="653" y="329.9" width="1" height="34.1" fill="#226c68"/>
<rect x="654" y="324.0" width="1" height="40.0" fill="#953a3e"/>
<rect x="655" y="320.0" width="1" height="44.0" fill="#953a3e"/>
<rect x="656" y="314.0" width="1" height="50.0" fill="#953a3e"/>
<rect x="657" y="309.0" width="1" height="55.0" fill="#953a3e"/>
<rect x="658" y="312.0" width="1" height="52.0" fill="#953a3e"/>
<rect x="659" y="301.0" width="1" height="63.0" fill="#953a3e"/>
<rect x="660" y="306.0" width="1" height="58.0" fill="#953a3e"/>
<rect x="661" y="316.0" width="1" height="48.0" fill="#953a3e"/>
<rect x="662" y="317.0" width="1" height="47.0" fill="#226c68"/>
<rect x="663" y="324.0" width="1" height="40.0" fill="#226c68"/>
<rect x="664" y="326.0" width="1" height="38.0" fill="#226c68"/>
<rect x="665" y="330.0" width="1" height="34.0" fill="#226c68"/>
<rect x="666" y="332.0" width="1" height="32.0" fill="#953a3e"/>
<rect x="667" y="330.0" width="1" height="34.0" fill="#953a3e"/>
<rect x="668" y="334.0" width="1" height="30.0" fill="#226c68"/>
<rect x="669" y="345.2" width="1" height="18.8" fill="#226c68"/>
<rect x="670" y="338.1" width="1" height="25.9" fill="#226c68"/>
<rect x="671" y="343.6" width="1" height="20.4" fill="#226c68"/>
<rect x="672" y="338.8" width="1" height="25.2" fill="#226c68"/>
<rect x="673" y="351.0" width="1" height="13.0" fill="#226c68"/>
<rect x="674" y="345.6" width="1" height="18.4" fill="#226c68"/>
<rect x="675" y="342.5" width="1" height="21.5" fill="#226c68"/>
<rect x="676" y="351.2" width="1" height="12.8" fill="#226c68"/>
<rect x="677" y="344.9" width="1" height="19.1" fill="#226c68"/>
<rect x="678" y="334.0" width="1" height="30.0" fill="#953a3e"/>
<rect x="679" y="338.0" width="1" height="26.0" fill="#953a3e"/>
<rect x="680" y="348.7" width="1" height="15.3" fill="#953a3e"/>
<rect x="681" y="342.7" width="1" height="21.3" fill="#953a3e"/>
<rect x="682" y="343.1" width="1" height="20.9" fill="#226c68"/>
<rect x="683" y="347.1" width="1" height="16.9" fill="#226c68"/>
<rect x="684" y="340.6" width="1" height="23.4" fill="#226c68"/>
<rect x="685" y="343.9" width="1" height="20.1" fill="#953a3e"/>
<rect x="686" y="343.7" width="1" height="20.3" fill="#226c68"/>
<rect x="687" y="345.4" width="1" height="18.6" fill="#226c68"/>
<rect x="688" y="341.5" width="1" height="22.5" fill="#226c68"/>
<rect x="689" y="343.4" width="1" height="20.6" fill="#953a3e"/>
<rect x="690" y="338.9" width="1" height="25.1" fill="#953a3e"/>
<rect x="691" y="342.0" width="1" height="22.0" fill="#226c68"/>
<rect x="692" y="346.1" width="1" height="17.9" fill="#226c68"/>
<rect x="693" y="344.8" width="1" height="19.2" fill="#226c68"/>
<rect x="694" y="340.0" width="1" height="24.0" fill="#226c68"/>
<rect x="695" y="345.3" width="1" height="18.7" fill="#226c68"/>
<rect x="696" y="342.4" width="1" height="21.6" fill="#226c68"/>
<rect x="697" y="341.9" width="1" height="22.1" fill="#953a3e"/>
<rect x="698" y="344.7" width="1" height="19.3" fill="#226c68"/>
<rect x="699" y="351.3" width="1" height="12.7" fill="#953a3e"/>
<rect x="700" y="343.6" width="1" height="20.4" fill="#226c68"/>
<rect x="701" y="343.3" width="1" height="20.7" fill="#953a3e"/>
<rect x="702" y="343.6" width="1" height="20.4" fill="#226c68"/>
<rect x="703" y="346.9" width="1" height="17.1" fill="#953a3e"/>
<rect x="704" y="339.0" width="1" height="25.0" fill="#226c68"/>
<rect x="705" y="344.7" width="1" height="19.3" fill="#953a3e"/>
<rect x="706" y="346.5" width="1" height="17.5" fill="#953a3e"/>
<rect x="707" y="346.8" width="1" height="17.2" fill="#953a3e"/>
<rect x="708" y="342.9" width="1" height="21.1" fill="#226c68"/>
<rect x="709" y="348.0" width="1" height="16.0" fill="#953a3e"/>
<rect x="710" y="347.8" width="1" height="16.2" fill="#953a3e"/>
<rect x="711" y="335.1" width="1" height="28.9" fill="#226c68"/>
<rect x="712" y="338.7" width="1" height="25.3" fill="#226c68"/>
<rect x="713" y="340.0" width="1" height="24.0" fill="#226c68"/>
<rect x="714" y="338.5" width="1" height="25.5" fill="#226c68"/>
<rect x="715" y="342.1" width="1" height="21.9" fill="#226c68"/>
<rect x="716" y="349.9" width="1" height="14.1" fill="#226c68"/>
<rect x="717" y="339.4" width="1" height="24.6" fill="#953a3e"/>
<rect x="718" y="339.2" width="1" height="24.8" fill="#953a3e"/>
<rect x="719" y="342.6" width="1" height="21.4" fill="#953a3e"/>
</g>
<g filter="url(#soft)">
<rect x="0" y="320.2" width="1" height="4.5" fill="#26a69a"/>
<rect x="1" y="317.9" width="1" height="4.3" fill="#26a69a"/>
<rect x="2" y="318.9" width="1" height="3.9" fill="#ef5350"/>
<rect x="3" y="316.5" width="1" height="4.7" fill="#26a69a"/>
<rect x="4" y="311.9" width="1" height="6.8" fill="#26a69a"/>
<rect x="5" y="310.4" width="1" height="11.6" fill="#ef5350"/>
<rect x="6" y="316.3" width="1" height="3.1" fill="#26a69a"/>
<rect x="7" y="316.2" width="1" height="5.4" fill="#ef5350"/>
<rect x="8" y="318.9" width="1" height="4.6" fill="#ef5350"/>
<rect x="9" y="320.5" width="1" height="8.0" fill="#ef5350"/>
<rect x="10" y="322.2" width="1" height="4.4" fill="#26a69a"/>
<rect x="11" y="318.4" width="1" height="6.5" fill="#26a69a"/>
<rect x="12" y="314.1" width="1" height="7.4" fill="#26a69a"/>
<rect x="13" y="314.3" width="1" height="3.0" fill="#26a69a"/>
<rect x="14" y="308.6" width="1" height="8.2" fill="#26a69a"/>
<rect x="15" y="306.9" width="1" height="6.2" fill="#26a69a"/>
<rect x="16" y="304.9" width="1" height="8.0" fill="#26a69a"/>
<rect x="17" y="302.0" width="1" height="6.9" fill="#26a69a"/>
<rect x="18" y="303.1" width="1" height="5.5" fill="#ef5350"/>
<rect x="19" y="303.3" width="1" height="5.0" fill="#26a69a"/>
<rect x="20" y="301.9" width="1" height="3.1" fill="#26a69a"/>
<rect x="21" y="297.5" width="1" height="7.3" fill="#26a69a"/>
<rect x="22" y="295.5" width="1" height="11.4" fill="#ef5350"/>
<rect x="23" y="299.0" width="1" height="6.2" fill="#26a69a"/>
<rect x="24" y="294.5" width="1" height="8.5" fill="#26a69a"/>
<rect x="25" y="297.2" width="1" height="8.7" fill="#ef5350"/>
<rect x="26" y="303.2" width="1" height="6.6" fill="#ef5350"/>
<rect x="27" y="305.8" width="1" height="5.7" fill="#ef5350"/>
<rect x="28" y="308.7" width="1" height="6.5" fill="#ef5350"/>
<rect x="29" y="310.1" width="1" height="7.2" fill="#ef5350"/>
<rect x="30" y="309.5" width="1" height="8.3" fill="#26a69a"/>
<rect x="31" y="308.2" width="1" height="4.8" fill="#26a69a"/>
<rect x="32" y="304.9" width="1" height="5.3" fill="#26a69a"/>
<rect x="33" y="307.2" width="1" height="2.8" fill="#ef5350"/>
<rect x="34" y="305.6" width="1" height="4.5" fill="#26a69a"/>
<rect x="35" y="305.5" width="1" height="3.0" fill="#26a69a"/>
<rect x="36" y="305.5" width="1" height="6.5" fill="#26a69a"/>
<rect x="37" y="304.3" width="1" height="9.0" fill="#ef5350"/>
<rect x="38" y="311.6" width="1" height="9.2" fill="#ef5350"/>
<rect x="39" y="313.4" width="1" height="20.6" fill="#ef5350"/>
<rect x="40" y="319.7" width="1" height="14.0" fill="#26a69a"/>
<rect x="41" y="315.5" width="1" height="6.9" fill="#26a69a"/>
<rect x="42" y="308.3" width="1" height="9.2" fill="#26a69a"/>
<rect x="43" y="303.6" width="1" height="6.9" fill="#26a69a"/>
<rect x="44" y="299.3" width="1" height="12.1" fill="#26a69a"/>
<rect x="45" y="294.0" width="1" height="8.6" fill="#26a69a"/>
<rect x="46" y="288.0" width="1" height="8.9" fill="#26a69a"/>
<rect x="47" y="283.1" width="1" height="15.5" fill="#26a69a"/>
<rect x="48" y="282.6" width="1" height="7.4" fill="#26a69a"/>
<rect x="49" y="282.1" width="1" height="6.0" fill="#ef5350"/>
<rect x="50" y="283.6" width="1" height="9.3" fill="#26a69a"/>
<rect x="51" y="283.3" width="1" height="2.6" fill="#26a69a"/>
<rect x="52" y="283.2" width="1" height="9.1" fill="#26a69a"/>
<rect x="53" y="280.2" width="1" height="6.6" fill="#26a69a"/>
<rect x="54" y="280.4" width="1" height="5.9" fill="#ef5350"/>
<rect x="55" y="279.5" width="1" height="8.8" fill="#ef5350"/>
<rect x="56" y="281.6" width="1" height="8.3" fill="#26a69a"/>
<rect x="57" y="276.7" width="1" height="10.1" fill="#26a69a"/>
<rect x="58" y="276.2" width="1" height="10.0" fill="#ef5350"/>
<rect x="59" y="284.9" width="1" height="2.0" fill="#ef5350"/>
<rect x="60" y="285.2" width="1" height="1.6" fill="#26a69a"/>
<rect x="61" y="283.7" width="1" height="3.8" fill="#ef5350"/>
<rect x="62" y="284.5" width="1" height="5.5" fill="#ef5350"/>
<rect x="63" y="281.9" width="1" height="7.7" fill="#26a69a"/>
<rect x="64" y="280.1" width="1" height="5.0" fill="#26a69a"/>
<rect x="65" y="276.6" width="1" height="6.5" fill="#26a69a"/>
<rect x="66" y="275.2" width="1" height="4.8" fill="#26a69a"/>
<rect x="67" y="275.3" width="1" height="5.5" fill="#ef5350"/>
<rect x="68" y="275.5" width="1" height="5.0" fill="#26a69a"/>
<rect x="69" y="275.8" width="1" height="5.5" fill="#ef5350"/>
<rect x="70" y="277.2" width="1" height="4.7" fill="#26a69a"/>
<rect x="71" y="277.3" width="1" height="1.8" fill="#ef5350"/>
<rect x="72" y="275.6" width="1" height="4.7" fill="#26a69a"/>
<rect x="73" y="272.7" width="1" height="6.1" fill="#26a69a"/>
<rect x="74" y="274.0" width="1" height="4.7" fill="#ef5350"/>
<rect x="75" y="276.5" width="1" height="1.4" fill="#26a69a"/>
<rect x="76" y="276.3" width="1" height="4.7" fill="#ef5350"/>
<rect x="77" y="273.1" width="1" height="5.8" fill="#26a69a"/>
<rect x="78" y="274.9" width="1" height="3.0" fill="#ef5350"/>
<rect x="79" y="277.1" width="1" height="3.8" fill="#ef5350"/>
<rect x="80" y="276.5" width="1" height="4.6" fill="#26a69a"/>
<rect x="81" y="277.0" width="1" height="5.3" fill="#ef5350"/>
<rect x="82" y="274.6" width="1" height="9.1" fill="#26a69a"/>
<rect x="83" y="274.5" width="1" height="5.8" fill="#ef5350"/>
<rect x="84" y="278.4" width="1" height="2.5" fill="#26a69a"/>
<rect x="85" y="276.1" width="1" height="3.4" fill="#ef5350"/>
<rect x="86" y="277.2" width="1" height="2.5" fill="#26a69a"/>
<rect x="87" y="277.7" width="1" height="5.5" fill="#ef5350"/>
<rect x="88" y="280.1" width="1" height="5.6" fill="#ef5350"/>
<rect x="89" y="283.5" width="1" height="7.6" fill="#ef5350"/>
<rect x="90" y="286.9" width="1" height="5.8" fill="#ef5350"/>
<rect x="91" y="287.2" width="1" height="3.7" fill="#26a69a"/>
<rect x="92" y="287.5" width="1" height="5.2" fill="#ef5350"/>
<rect x="93" y="286.6" width="1" height="4.7" fill="#ef5350"/>
<rect x="94" y="284.0" width="1" height="7.9" fill="#26a69a"/>
<rect x="95" y="282.8" width="1" height="3.1" fill="#26a69a"/>
<rect x="96" y="280.7" width="1" height="4.9" fill="#26a69a"/>
<rect x="97" y="280.9" width="1" height="7.4" fill="#ef5350"/>
<rect x="98" y="285.3" width="1" height="6.6" fill="#ef5350"/>
<rect x="99" y="287.4" width="1" height="6.5" fill="#ef5350"/>
<rect x="100" y="285.6" width="1" height="4.7" fill="#ef5350"/>
<rect x="101" y="281.6" width="1" height="12.1" fill="#26a69a"/>
<rect x="102" y="280.4" width="1" height="9.9" fill="#ef5350"/>
<rect x="103" y="283.2" width="1" height="5.4" fill="#ef5350"/>
<rect x="104" y="285.1" width="1" height="5.4" fill="#26a69a"/>
<rect x="105" y="285.3" width="1" height="4.5" fill="#26a69a"/>
<rect x="106" y="285.5" width="1" height="4.3" fill="#ef5350"/>
<rect x="107" y="284.6" width="1" height="3.2" fill="#ef5350"/>
<rect x="108" y="284.9" width="1" height="9.2" fill="#26a69a"/>
<rect x="109" y="285.4" width="1" height="13.5" fill="#ef5350"/>
<rect x="110" y="291.2" width="1" height="5.7" fill="#ef5350"/>
<rect x="111" y="292.4" width="1" height="2.6" fill="#ef5350"/>
<rect x="112" y="287.8" width="1" height="6.7" fill="#26a69a"/>
<rect x="113" y="287.3" width="1" height="9.6" fill="#ef5350"/>
<rect x="114" y="289.6" width="1" height="4.2" fill="#26a69a"/>
<rect x="115" y="290.1" width="1" height="5.5" fill="#ef5350"/>
<rect x="116" y="291.1" width="1" height="7.5" fill="#ef5350"/>
<rect x="117" y="286.3" width="1" height="11.8" fill="#26a69a"/>
<rect x="118" y="288.0" width="1" height="8.9" fill="#ef5350"/>
<rect x="119" y="288.2" width="1" height="8.4" fill="#26a69a"/>
<rect x="120" y="291.2" width="1" height="2.9" fill="#26a69a"/>
<rect x="121" y="291.4" width="1" height="2.8" fill="#ef5350"/>
<rect x="122" y="292.5" width="1" height="4.8" fill="#ef5350"/>
<rect x="123" y="296.0" width="1" height="4.4" fill="#ef5350"/>
<rect x="124" y="298.4" width="1" height="0.8" fill="#ef5350"/>
<rect x="125" y="298.4" width="1" height="4.2" fill="#ef5350"/>
<rect x="126" y="299.5" width="1" height="6.2" fill="#ef5350"/>
<rect x="127" y="303.5" width="1" height="3.8" fill="#ef5350"/>
<rect x="128" y="300.4" width="1" height="10.1" fill="#26a69a"/>
<rect x="129" y="297.5" width="1" height="6.8" fill="#26a69a"/>
<rect x="130" y="289.5" width="1" height="12.5" fill="#26a69a"/>
<rect x="131" y="293.9" width="1" height="4.9" fill="#ef5350"/>
<rect x="132" y="286.3" width="1" height="10.9" fill="#26a69a"/>
<rect x="133" y="282.8" width="1" height="6.7" fill="#26a69a"/>
<rect x="134" y="281.9" width="1" height="8.1" fill="#26a69a"/>
<rect x="135" y="280.4" width="1" height="5.5" fill="#26a69a"/>
<rect x="136" y="276.9" width="1" height="6.8" fill="#26a69a"/>
<rect x="137" y="277.2" width="1" height="4.0" fill="#ef5350"/>
<rect x="138" y="269.6" width="1" height="12.3" fill="#26a69a"/>
<rect x="139" y="273.1" width="1" height="7.6" fill="#26a69a"/>
<rect x="140" y="269.7" width="1" height="6.1" fill="#26a69a"/>
<rect x="141" y="268.9" width="1" height="3.6" fill="#26a69a"/>
<rect x="142" y="268.9" width="1" height="4.6" fill="#26a69a"/>
<rect x="143" y="268.2" width="1" height="4.6" fill="#26a69a"/>
<rect x="144" y="269.5" width="1" height="1.5" fill="#26a69a"/>
<rect x="145" y="267.5" width="1" height="4.0" fill="#ef5350"/>
<rect x="146" y="264.7" width="1" height="6.5" fill="#26a69a"/>
<rect x="147" y="261.4" width="1" height="7.7" fill="#26a69a"/>
<rect x="148" y="262.6" width="1" height="4.3" fill="#ef5350"/>
<rect x="149" y="256.0" width="1" height="11.4" fill="#26a69a"/>
<rect x="150" y="257.1" width="1" height="3.0" fill="#26a69a"/>
<rect x="151" y="248.1" width="1" height="12.6" fill="#26a69a"/>
<rect x="152" y="247.7" width="1" height="3.1" fill="#26a69a"/>
<rect x="153" y="244.0" width="1" height="5.9" fill="#26a69a"/>
<rect x="154" y="244.5" width="1" height="2.7" fill="#26a69a"/>
<rect x="155" y="245.6" width="1" height="3.3" fill="#ef5350"/>
<rect x="156" y="245.5" width="1" height="6.7" fill="#ef5350"/>
<rect x="157" y="246.0" width="1" height="5.9" fill="#26a69a"/>
<rect x="158" y="247.6" width="1" height="2.8" fill="#ef5350"/>
<rect x="159" y="245.7" width="1" height="4.0" fill="#26a69a"/>
<rect x="160" y="247.1" width="1" height="3.5" fill="#ef5350"/>
<rect x="161" y="248.7" width="1" height="2.4" fill="#26a69a"/>
<rect x="162" y="248.8" width="1" height="3.3" fill="#ef5350"/>
<rect x="163" y="247.0" width="1" height="4.9" fill="#26a69a"/>
<rect x="164" y="248.2" width="1" height="3.9" fill="#ef5350"/>
<rect x="165" y="250.9" width="1" height="3.5" fill="#ef5350"/>
<rect x="166" y="252.3" width="1" height="3.9" fill="#ef5350"/>
<rect x="167" y="251.4" width="1" height="4.8" fill="#26a69a"/>
<rect x="168" y="251.2" width="1" height="3.0" fill="#ef5350"/>
<rect x="169" y="247.9" width="1" height="6.3" fill="#26a69a"/>
<rect x="170" y="248.3" width="1" height="1.7" fill="#26a69a"/>
<rect x="171" y="247.6" width="1" height="3.3" fill="#ef5350"/>
<rect x="172" y="249.2" width="1" height="5.5" fill="#ef5350"/>
<rect x="173" y="247.8" width="1" height="8.8" fill="#26a69a"/>
<rect x="174" y="248.2" width="1" height="2.8" fill="#26a69a"/>
<rect x="175" y="248.1" width="1" height="7.0" fill="#ef5350"/>
<rect x="176" y="249.2" width="1" height="4.7" fill="#26a69a"/>
<rect x="177" y="248.4" width="1" height="4.2" fill="#26a69a"/>
<rect x="178" y="247.7" width="1" height="3.4" fill="#ef5350"/>
<rect x="179" y="249.8" width="1" height="1.6" fill="#ef5350"/>
<rect x="180" y="248.4" width="1" height="4.2" fill="#26a69a"/>
<rect x="181" y="244.5" width="1" height="5.6" fill="#26a69a"/>
<rect x="182" y="238.5" width="1" height="9.9" fill="#26a69a"/>
<rect x="183" y="240.7" width="1" height="3.8" fill="#ef5350"/>
<rect x="184" y="242.1" width="1" height="4.6" fill="#ef5350"/>
<rect x="185" y="241.6" width="1" height="5.2" fill="#26a69a"/>
<rect x="186" y="242.7" width="1" height="4.2" fill="#ef5350"/>
<rect x="187" y="244.0" width="1" height="2.3" fill="#26a69a"/>
<rect x="188" y="242.4" width="1" height="3.2" fill="#ef5350"/>
<rect x="189" y="244.1" width="1" height="1.9" fill="#26a69a"/>
<rect x="190" y="238.9" width="1" height="8.4" fill="#26a69a"/>
<rect x="191" y="237.0" width="1" height="5.6" fill="#ef5350"/>
<rect x="192" y="231.0" width="1" height="11.5" fill="#26a69a"/>
<rect x="193" y="231.8" width="1" height="2.6" fill="#26a69a"/>
<rect x="194" y="227.8" width="1" height="4.7" fill="#26a69a"/>
<rect x="195" y="224.8" width="1" height="5.6" fill="#26a69a"/>
<rect x="196" y="224.3" width="1" height="2.5" fill="#26a69a"/>
<rect x="197" y="221.2" width="1" height="6.3" fill="#26a69a"/>
<rect x="198" y="220.2" width="1" height="2.9" fill="#26a69a"/>
<rect x="199" y="215.7" width="1" height="5.8" fill="#26a69a"/>
<rect x="200" y="216.2" width="1" height="2.2" fill="#26a69a"/>
<rect x="201" y="215.9" width="1" height="2.4" fill="#ef5350"/>
<rect x="202" y="214.5" width="1" height="4.5" fill="#26a69a"/>
<rect x="203" y="212.6" width="1" height="5.6" fill="#26a69a"/>
<rect x="204" y="210.1" width="1" height="3.4" fill="#26a69a"/>
<rect x="205" y="207.1" width="1" height="5.4" fill="#26a69a"/>
<rect x="206" y="204.6" width="1" height="7.2" fill="#26a69a"/>
<rect x="207" y="205.1" width="1" height="5.5" fill="#ef5350"/>
<rect x="208" y="208.7" width="1" height="2.7" fill="#ef5350"/>
<rect x="209" y="207.8" width="1" height="2.9" fill="#26a69a"/>
<rect x="210" y="209.1" width="1" height="2.7" fill="#ef5350"/>
<rect x="211" y="209.7" width="1" height="3.2" fill="#ef5350"/>
<rect x="212" y="210.5" width="1" height="2.8" fill="#ef5350"/>
<rect x="213" y="207.5" width="1" height="6.1" fill="#26a69a"/>
<rect x="214" y="208.8" width="1" height="2.9" fill="#ef5350"/>
<rect x="215" y="207.4" width="1" height="6.4" fill="#26a69a"/>
<rect x="216" y="207.4" width="1" height="5.3" fill="#ef5350"/>
<rect x="217" y="210.3" width="1" height="3.4" fill="#ef5350"/>
<rect x="218" y="212.2" width="1" height="3.8" fill="#ef5350"/>
<rect x="219" y="211.6" width="1" height="8.1" fill="#ef5350"/>
<rect x="220" y="216.4" width="1" height="5.1" fill="#ef5350"/>
<rect x="221" y="217.8" width="1" height="8.6" fill="#ef5350"/>
<rect x="222" y="220.8" width="1" height="2.8" fill="#26a69a"/>
<rect x="223" y="220.2" width="1" height="7.6" fill="#ef5350"/>
<rect x="224" y="222.9" width="1" height="5.2" fill="#26a69a"/>
<rect x="225" y="219.8" width="1" height="5.0" fill="#26a69a"/>
<rect x="226" y="218.8" width="1" height="3.1" fill="#26a69a"/>
<rect x="227" y="216.7" width="1" height="4.5" fill="#ef5350"/>
<rect x="228" y="217.8" width="1" height="3.0" fill="#26a69a"/>
<rect x="229" y="215.9" width="1" height="4.4" fill="#26a69a"/>
<rect x="230" y="216.8" width="1" height="4.9" fill="#26a69a"/>
<rect x="231" y="216.0" width="1" height="3.0" fill="#ef5350"/>
<rect x="232" y="213.5" width="1" height="4.8" fill="#26a69a"/>
<rect x="233" y="216.1" width="1" height="6.5" fill="#ef5350"/>
<rect x="234" y="219.3" width="1" height="2.8" fill="#ef5350"/>
<rect x="235" y="218.4" width="1" height="2.9" fill="#26a69a"/>
<rect x="236" y="219.3" width="1" height="6.0" fill="#ef5350"/>
<rect x="237" y="220.5" width="1" height="7.3" fill="#26a69a"/>
<rect x="238" y="215.6" width="1" height="7.3" fill="#26a69a"/>
<rect x="239" y="219.3" width="1" height="3.1" fill="#26a69a"/>
<rect x="240" y="211.8" width="1" height="9.6" fill="#26a69a"/>
<rect x="241" y="214.6" width="1" height="7.1" fill="#ef5350"/>
<rect x="242" y="212.4" width="1" height="6.2" fill="#26a69a"/>
<rect x="243" y="207.7" width="1" height="7.9" fill="#26a69a"/>
<rect x="244" y="202.2" width="1" height="10.5" fill="#26a69a"/>
<rect x="245" y="206.0" width="1" height="6.3" fill="#26a69a"/>
<rect x="246" y="207.2" width="1" height="2.1" fill="#ef5350"/>
<rect x="247" y="205.5" width="1" height="4.0" fill="#26a69a"/>
<rect x="248" y="206.4" width="1" height="2.3" fill="#ef5350"/>
<rect x="249" y="207.0" width="1" height="2.6" fill="#ef5350"/>
<rect x="250" y="207.8" width="1" height="3.5" fill="#26a69a"/>
<rect x="251" y="207.3" width="1" height="3.2" fill="#ef5350"/>
<rect x="252" y="206.8" width="1" height="4.6" fill="#26a69a"/>
<rect x="253" y="206.7" width="1" height="2.5" fill="#26a69a"/>
<rect x="254" y="204.6" width="1" height="5.5" fill="#26a69a"/>
<rect x="255" y="204.7" width="1" height="1.8" fill="#ef5350"/>
<rect x="256" y="204.8" width="1" height="2.2" fill="#26a69a"/>
<rect x="257" y="204.0" width="1" height="4.4" fill="#26a69a"/>
<rect x="258" y="203.1" width="1" height="3.5" fill="#ef5350"/>
<rect x="259" y="203.9" width="1" height="5.1" fill="#ef5350"/>
<rect x="260" y="205.1" width="1" height="7.5" fill="#ef5350"/>
<rect x="261" y="204.0" width="1" height="7.1" fill="#26a69a"/>
<rect x="262" y="203.8" width="1" height="2.8" fill="#26a69a"/>
<rect x="263" y="200.2" width="1" height="5.2" fill="#26a69a"/>
<rect x="264" y="199.3" width="1" height="6.4" fill="#26a69a"/>
<rect x="265" y="198.6" width="1" height="2.4" fill="#26a69a"/>
<rect x="266" y="195.6" width="1" height="5.4" fill="#26a69a"/>
<rect x="267" y="192.6" width="1" height="6.4" fill="#26a69a"/>
<rect x="268" y="192.1" width="1" height="2.1" fill="#26a69a"/>
<rect x="269" y="191.0" width="1" height="5.0" fill="#26a69a"/>
<rect x="270" y="190.4" width="1" height="3.6" fill="#26a69a"/>
<rect x="271" y="188.8" width="1" height="6.2" fill="#26a69a"/>
<rect x="272" y="187.8" width="1" height="5.2" fill="#ef5350"/>
<rect x="273" y="188.5" width="1" height="5.4" fill="#26a69a"/>
<rect x="274" y="187.3" width="1" height="3.3" fill="#26a69a"/>
<rect x="275" y="187.2" width="1" height="5.3" fill="#ef5350"/>
<rect x="276" y="186.3" width="1" height="5.1" fill="#26a69a"/>
<rect x="277" y="188.1" width="1" height="2.7" fill="#26a69a"/>
<rect x="278" y="187.7" width="1" height="1.7" fill="#26a69a"/>
<rect x="279" y="188.3" width="1" height="2.3" fill="#ef5350"/>
<rect x="280" y="186.3" width="1" height="7.0" fill="#ef5350"/>
<rect x="281" y="186.0" width="1" height="8.8" fill="#26a69a"/>
<rect x="282" y="189.6" width="1" height="1.4" fill="#26a69a"/>
<rect x="283" y="188.7" width="1" height="1.6" fill="#26a69a"/>
<rect x="284" y="188.8" width="1" height="2.8" fill="#26a69a"/>
<rect x="285" y="188.1" width="1" height="2.7" fill="#ef5350"/>
<rect x="286" y="189.1" width="1" height="7.4" fill="#ef5350"/>
<rect x="287" y="192.6" width="1" height="2.8" fill="#ef5350"/>
<rect x="288" y="192.8" width="1" height="4.4" fill="#ef5350"/>
<rect x="289" y="195.8" width="1" height="4.0" fill="#ef5350"/>
<rect x="290" y="194.4" width="1" height="5.5" fill="#26a69a"/>
<rect x="291" y="195.0" width="1" height="5.3" fill="#ef5350"/>
<rect x="292" y="194.6" width="1" height="5.4" fill="#26a69a"/>
<rect x="293" y="194.0" width="1" height="3.7" fill="#26a69a"/>
<rect x="294" y="194.0" width="1" height="2.7" fill="#26a69a"/>
<rect x="295" y="194.4" width="1" height="3.4" fill="#ef5350"/>
<rect x="296" y="192.0" width="1" height="5.4" fill="#26a69a"/>
<rect x="297" y="189.9" width="1" height="3.6" fill="#26a69a"/>
<rect x="298" y="185.5" width="1" height="6.6" fill="#26a69a"/>
<rect x="299" y="183.5" width="1" height="8.9" fill="#26a69a"/>
<rect x="300" y="179.9" width="1" height="6.8" fill="#26a69a"/>
<rect x="301" y="178.3" width="1" height="8.9" fill="#ef5350"/>
<rect x="302" y="178.5" width="1" height="4.6" fill="#26a69a"/>
<rect x="303" y="174.6" width="1" height="5.5" fill="#26a69a"/>
<rect x="304" y="174.7" width="1" height="6.6" fill="#26a69a"/>
<rect x="305" y="175.2" width="1" height="5.4" fill="#ef5350"/>
<rect x="306" y="179.5" width="1" height="3.0" fill="#ef5350"/>
<rect x="307" y="174.1" width="1" height="7.4" fill="#26a69a"/>
<rect x="308" y="174.6" width="1" height="3.8" fill="#ef5350"/>
<rect x="309" y="173.8" width="1" height="6.2" fill="#ef5350"/>
<rect x="310" y="178.0" width="1" height="3.1" fill="#ef5350"/>
<rect x="311" y="174.9" width="1" height="5.6" fill="#26a69a"/>
<rect x="312" y="173.9" width="1" height="7.5" fill="#ef5350"/>
<rect x="313" y="176.4" width="1" height="5.1" fill="#26a69a"/>
<rect x="314" y="176.6" width="1" height="2.8" fill="#ef5350"/>
<rect x="315" y="176.8" width="1" height="3.1" fill="#26a69a"/>
<rect x="316" y="174.8" width="1" height="3.0" fill="#26a69a"/>
<rect x="317" y="175.8" width="1" height="4.2" fill="#ef5350"/>
<rect x="318" y="178.1" width="1" height="2.5" fill="#ef5350"/>
<rect x="319" y="179.0" width="1" height="7.0" fill="#ef5350"/>
<rect x="320" y="182.4" width="1" height="3.8" fill="#ef5350"/>
<rect x="321" y="185.3" width="1" height="2.1" fill="#ef5350"/>
<rect x="322" y="185.2" width="1" height="3.6" fill="#ef5350"/>
<rect x="323" y="185.8" width="1" height="5.8" fill="#ef5350"/>
<rect x="324" y="189.2" width="1" height="3.6" fill="#ef5350"/>
<rect x="325" y="188.6" width="1" height="3.6" fill="#ef5350"/>
<rect x="326" y="189.0" width="1" height="3.1" fill="#26a69a"/>
<rect x="327" y="185.7" width="1" height="4.2" fill="#26a69a"/>
<rect x="328" y="186.5" width="1" height="2.5" fill="#ef5350"/>
<rect x="329" y="185.8" width="1" height="3.6" fill="#ef5350"/>
<rect x="330" y="185.1" width="1" height="3.8" fill="#26a69a"/>
<rect x="331" y="183.8" width="1" height="4.9" fill="#26a69a"/>
<rect x="332" y="182.2" width="1" height="4.2" fill="#26a69a"/>
<rect x="333" y="179.6" width="1" height="3.5" fill="#26a69a"/>
<rect x="334" y="175.8" width="1" height="7.2" fill="#ef5350"/>
<rect x="335" y="173.6" width="1" height="13.9" fill="#26a69a"/>
<rect x="336" y="173.6" width="1" height="3.3" fill="#26a69a"/>
<rect x="337" y="172.9" width="1" height="7.7" fill="#ef5350"/>
<rect x="338" y="175.3" width="1" height="1.4" fill="#ef5350"/>
<rect x="339" y="171.2" width="1" height="6.3" fill="#26a69a"/>
<rect x="340" y="171.0" width="1" height="5.7" fill="#26a69a"/>
<rect x="341" y="170.5" width="1" height="3.2" fill="#26a69a"/>
<rect x="342" y="169.1" width="1" height="3.3" fill="#26a69a"/>
<rect x="343" y="167.3" width="1" height="6.7" fill="#ef5350"/>
<rect x="344" y="166.1" width="1" height="6.1" fill="#26a69a"/>
<rect x="345" y="167.6" width="1" height="6.3" fill="#ef5350"/>
<rect x="346" y="168.7" width="1" height="5.2" fill="#26a69a"/>
<rect x="347" y="167.0" width="1" height="4.6" fill="#26a69a"/>
<rect x="348" y="166.9" width="1" height="8.1" fill="#ef5350"/>
<rect x="349" y="169.1" width="1" height="6.0" fill="#26a69a"/>
<rect x="350" y="169.3" width="1" height="3.0" fill="#ef5350"/>
<rect x="351" y="167.9" width="1" height="3.3" fill="#26a69a"/>
<rect x="352" y="164.9" width="1" height="4.7" fill="#26a69a"/>
<rect x="353" y="160.3" width="1" height="8.2" fill="#26a69a"/>
<rect x="354" y="158.9" width="1" height="4.3" fill="#26a69a"/>
<rect x="355" y="158.3" width="1" height="2.2" fill="#26a69a"/>
<rect x="356" y="155.4" width="1" height="6.5" fill="#26a69a"/>
<rect x="357" y="154.9" width="1" height="2.4" fill="#26a69a"/>
<rect x="358" y="154.4" width="1" height="2.6" fill="#26a69a"/>
<rect x="359" y="153.2" width="1" height="2.6" fill="#26a69a"/>
<rect x="360" y="152.1" width="1" height="3.0" fill="#26a69a"/>
<rect x="361" y="151.6" width="1" height="3.3" fill="#26a69a"/>
<rect x="362" y="150.6" width="1" height="3.4" fill="#ef5350"/>
<rect x="363" y="150.6" width="1" height="4.2" fill="#26a69a"/>
<rect x="364" y="150.1" width="1" height="2.9" fill="#26a69a"/>
<rect x="365" y="148.6" width="1" height="3.5" fill="#26a69a"/>
<rect x="366" y="147.7" width="1" height="3.4" fill="#26a69a"/>
<rect x="367" y="145.7" width="1" height="3.6" fill="#26a69a"/>
<rect x="368" y="145.0" width="1" height="4.2" fill="#ef5350"/>
<rect x="369" y="146.7" width="1" height="2.2" fill="#ef5350"/>
<rect x="370" y="147.3" width="1" height="3.4" fill="#ef5350"/>
<rect x="371" y="144.8" width="1" height="4.9" fill="#26a69a"/>
<rect x="372" y="142.6" width="1" height="4.8" fill="#26a69a"/>
<rect x="373" y="141.7" width="1" height="3.6" fill="#26a69a"/>
<rect x="374" y="139.7" width="1" height="5.1" fill="#26a69a"/>
<rect x="375" y="140.2" width="1" height="2.7" fill="#ef5350"/>
<rect x="376" y="140.5" width="1" height="1.3" fill="#ef5350"/>
<rect x="377" y="137.7" width="1" height="5.3" fill="#26a69a"/>
<rect x="378" y="137.3" width="1" height="2.2" fill="#ef5350"/>
<rect x="379" y="137.8" width="1" height="3.5" fill="#ef5350"/>
<rect x="380" y="136.6" width="1" height="3.4" fill="#26a69a"/>
<rect x="381" y="137.5" width="1" height="3.1" fill="#ef5350"/>
<rect x="382" y="138.0" width="1" height="4.3" fill="#ef5350"/>
<rect x="383" y="140.6" width="1" height="3.8" fill="#ef5350"/>
<rect x="384" y="142.5" width="1" height="1.7" fill="#26a69a"/>
<rect x="385" y="142.5" width="1" height="4.7" fill="#ef5350"/>
<rect x="386" y="139.7" width="1" height="5.0" fill="#26a69a"/>
<rect x="387" y="138.7" width="1" height="6.2" fill="#26a69a"/>
<rect x="388" y="135.2" width="1" height="6.4" fill="#26a69a"/>
<rect x="389" y="130.8" width="1" height="7.3" fill="#26a69a"/>
<rect x="390" y="130.8" width="1" height="5.7" fill="#ef5350"/>
<rect x="391" y="132.2" width="1" height="2.7" fill="#26a69a"/>
<rect x="392" y="128.9" width="1" height="7.7" fill="#26a69a"/>
<rect x="393" y="129.7" width="1" height="2.0" fill="#26a69a"/>
<rect x="394" y="126.2" width="1" height="4.8" fill="#26a69a"/>
<rect x="395" y="122.1" width="1" height="6.9" fill="#26a69a"/>
<rect x="396" y="115.1" width="1" height="8.9" fill="#26a69a"/>
<rect x="397" y="115.2" width="1" height="4.9" fill="#ef5350"/>
<rect x="398" y="116.1" width="1" height="5.7" fill="#ef5350"/>
<rect x="399" y="113.9" width="1" height="7.8" fill="#26a69a"/>
<rect x="400" y="115.0" width="1" height="7.8" fill="#ef5350"/>
<rect x="401" y="116.5" width="1" height="5.6" fill="#26a69a"/>
<rect x="402" y="113.1" width="1" height="6.6" fill="#26a69a"/>
<rect x="403" y="109.4" width="1" height="8.0" fill="#26a69a"/>
<rect x="404" y="110.0" width="1" height="2.4" fill="#ef5350"/>
<rect x="405" y="108.1" width="1" height="5.9" fill="#26a69a"/>
<rect x="406" y="108.6" width="1" height="2.5" fill="#ef5350"/>
<rect x="407" y="108.9" width="1" height="3.2" fill="#ef5350"/>
<rect x="408" y="108.7" width="1" height="3.8" fill="#26a69a"/>
<rect x="409" y="103.7" width="1" height="6.3" fill="#26a69a"/>
<rect x="410" y="103.7" width="1" height="3.9" fill="#26a69a"/>
<rect x="411" y="103.7" width="1" height="6.4" fill="#ef5350"/>
<rect x="412" y="107.1" width="1" height="3.2" fill="#26a69a"/>
<rect x="413" y="105.0" width="1" height="3.3" fill="#26a69a"/>
<rect x="414" y="101.6" width="1" height="7.6" fill="#ef5350"/>
<rect x="415" y="102.4" width="1" height="5.1" fill="#26a69a"/>
<rect x="416" y="101.4" width="1" height="6.1" fill="#26a69a"/>
<rect x="417" y="101.2" width="1" height="5.9" fill="#26a69a"/>
<rect x="418" y="95.2" width="1" height="7.3" fill="#26a69a"/>
<rect x="419" y="90.2" width="1" height="7.8" fill="#26a69a"/>
<rect x="420" y="90.3" width="1" height="2.9" fill="#26a69a"/>
<rect x="421" y="83.2" width="1" height="9.8" fill="#26a69a"/>
<rect x="422" y="80.7" width="1" height="4.4" fill="#26a69a"/>
<rect x="423" y="78.2" width="1" height="4.2" fill="#26a69a"/>
<rect x="424" y="74.1" width="1" height="6.4" fill="#26a69a"/>
<rect x="425" y="67.7" width="1" height="10.4" fill="#26a69a"/>
<rect x="426" y="65.5" width="1" height="8.0" fill="#26a69a"/>
<rect x="427" y="62.9" width="1" height="7.6" fill="#26a69a"/>
<rect x="428" y="57.6" width="1" height="7.8" fill="#26a69a"/>
<rect x="429" y="56.8" width="1" height="5.2" fill="#26a69a"/>
<rect x="430" y="51.8" width="1" height="7.5" fill="#26a69a"/>
<rect x="431" y="46.6" width="1" height="9.0" fill="#26a69a"/>
<rect x="432" y="46.8" width="1" height="2.4" fill="#26a69a"/>
<rect x="433" y="43.2" width="1" height="8.9" fill="#26a69a"/>
<rect x="434" y="43.3" width="1" height="6.7" fill="#ef5350"/>
<rect x="435" y="48.1" width="1" height="8.9" fill="#ef5350"/>
<rect x="436" y="54.9" width="1" height="9.0" fill="#ef5350"/>
<rect x="437" y="55.0" width="1" height="18.1" fill="#ef5350"/>
<rect x="438" y="67.3" width="1" height="18.6" fill="#ef5350"/>
<rect x="439" y="80.1" width="1" height="15.3" fill="#ef5350"/>
<rect x="440" y="86.6" width="1" height="23.4" fill="#ef5350"/>
<rect x="441" y="106.7" width="1" height="17.2" fill="#ef5350"/>
<rect x="442" y="118.2" width="1" height="19.2" fill="#ef5350"/>
<rect x="443" y="132.0" width="1" height="22.8" fill="#ef5350"/>
<rect x="444" y="131.8" width="1" height="25.2" fill="#26a69a"/>
<rect x="445" y="114.8" width="1" height="24.4" fill="#26a69a"/>
<rect x="446" y="101.2" width="1" height="20.6" fill="#26a69a"/>
<rect x="447" y="97.9" width="1" height="15.5" fill="#26a69a"/>
<rect x="448" y="88.0" width="1" height="15.8" fill="#26a69a"/>
<rect x="449" y="83.0" width="1" height="15.6" fill="#26a69a"/>
<rect x="450" y="79.0" width="1" height="11.2" fill="#26a69a"/>
<rect x="451" y="82.7" width="1" height="8.9" fill="#26a69a"/>
<rect x="452" y="72.7" width="1" height="16.0" fill="#26a69a"/>
<rect x="453" y="71.9" width="1" height="11.2" fill="#ef5350"/>
<rect x="454" y="70.8" width="1" height="13.2" fill="#ef5350"/>
<rect x="455" y="80.2" width="1" height="16.4" fill="#ef5350"/>
<rect x="456" y="90.0" width="1" height="7.6" fill="#26a69a"/>
<rect x="457" y="86.9" width="1" height="27.5" fill="#ef5350"/>
<rect x="458" y="99.1" width="1" height="13.4" fill="#26a69a"/>
<rect x="459" y="86.3" width="1" height="17.0" fill="#26a69a"/>
<rect x="460" y="83.2" width="1" height="12.6" fill="#26a69a"/>
<rect x="461" y="72.4" width="1" height="17.3" fill="#26a69a"/>
<rect x="462" y="73.1" width="1" height="14.1" fill="#26a69a"/>
<rect x="463" y="68.8" width="1" height="19.5" fill="#26a69a"/>
<rect x="464" y="76.4" width="1" height="3.4" fill="#ef5350"/>
<rect x="465" y="74.3" width="1" height="11.2" fill="#ef5350"/>
<rect x="466" y="79.1" width="1" height="7.9" fill="#26a69a"/>
<rect x="467" y="81.0" width="1" height="17.7" fill="#ef5350"/>
<rect x="468" y="90.2" width="1" height="10.4" fill="#ef5350"/>
<rect x="469" y="96.6" width="1" height="12.5" fill="#ef5350"/>
<rect x="470" y="101.9" width="1" height="13.2" fill="#ef5350"/>
<rect x="471" y="107.2" width="1" height="9.1" fill="#ef5350"/>
<rect x="472" y="104.0" width="1" height="31.9" fill="#ef5350"/>
<rect x="473" y="128.0" width="1" height="11.3" fill="#26a69a"/>
<rect x="474" y="123.0" width="1" height="10.9" fill="#26a69a"/>
<rect x="475" y="121.7" width="1" height="12.0" fill="#ef5350"/>
<rect x="476" y="127.1" width="1" height="11.9" fill="#ef5350"/>
<rect x="477" y="133.7" width="1" height="13.1" fill="#ef5350"/>
<rect x="478" y="138.6" width="1" height="7.6" fill="#26a69a"/>
<rect x="479" y="128.6" width="1" height="15.2" fill="#26a69a"/>
<rect x="480" y="118.7" width="1" height="14.1" fill="#26a69a"/>
<rect x="481" y="109.3" width="1" height="16.2" fill="#26a69a"/>
<rect x="482" y="113.9" width="1" height="15.9" fill="#ef5350"/>
<rect x="483" y="109.6" width="1" height="20.3" fill="#26a69a"/>
<rect x="484" y="114.0" width="1" height="11.5" fill="#26a69a"/>
<rect x="485" y="110.1" width="1" height="7.7" fill="#26a69a"/>
<rect x="486" y="108.4" width="1" height="4.8" fill="#26a69a"/>
<rect x="487" y="108.5" width="1" height="5.1" fill="#ef5350"/>
<rect x="488" y="102.6" width="1" height="13.4" fill="#26a69a"/>
<rect x="489" y="101.1" width="1" height="11.5" fill="#ef5350"/>
<rect x="490" y="97.0" width="1" height="12.9" fill="#26a69a"/>
<rect x="491" y="102.6" width="1" height="9.4" fill="#ef5350"/>
<rect x="492" y="104.0" width="1" height="13.5" fill="#ef5350"/>
<rect x="493" y="105.8" width="1" height="15.7" fill="#ef5350"/>
<rect x="494" y="117.5" width="1" height="5.0" fill="#ef5350"/>
<rect x="495" y="115.8" width="1" height="5.7" fill="#26a69a"/>
<rect x="496" y="113.4" width="1" height="13.4" fill="#26a69a"/>
<rect x="497" y="105.8" width="1" height="11.9" fill="#ef5350"/>
<rect x="498" y="114.6" width="1" height="6.7" fill="#26a69a"/>
<rect x="499" y="112.7" width="1" height="8.5" fill="#ef5350"/>
<rect x="500" y="117.5" width="1" height="15.0" fill="#ef5350"/>
<rect x="501" y="108.8" width="1" height="21.1" fill="#26a69a"/>
<rect x="502" y="99.7" width="1" height="19.5" fill="#26a69a"/>
<rect x="503" y="103.3" width="1" height="9.3" fill="#ef5350"/>
<rect x="504" y="100.5" width="1" height="12.7" fill="#26a69a"/>
<rect x="505" y="89.4" width="1" height="17.8" fill="#26a69a"/>
<rect x="506" y="89.1" width="1" height="9.9" fill="#26a69a"/>
<rect x="507" y="90.2" width="1" height="5.6" fill="#26a69a"/>
<rect x="508" y="87.0" width="1" height="5.9" fill="#26a69a"/>
<rect x="509" y="87.4" width="1" height="6.1" fill="#ef5350"/>
<rect x="510" y="90.0" width="1" height="9.5" fill="#ef5350"/>
<rect x="511" y="87.7" width="1" height="9.2" fill="#ef5350"/>
<rect x="512" y="88.7" width="1" height="5.0" fill="#26a69a"/>
<rect x="513" y="87.7" width="1" height="11.7" fill="#ef5350"/>
<rect x="514" y="93.9" width="1" height="6.7" fill="#ef5350"/>
<rect x="515" y="90.8" width="1" height="7.9" fill="#26a69a"/>
<rect x="516" y="92.8" width="1" height="8.2" fill="#ef5350"/>
<rect x="517" y="94.7" width="1" height="7.6" fill="#ef5350"/>
<rect x="518" y="94.1" width="1" height="7.1" fill="#26a69a"/>
<rect x="519" y="86.4" width="1" height="13.7" fill="#26a69a"/>
<rect x="520" y="83.8" width="1" height="5.9" fill="#26a69a"/>
<rect x="521" y="80.8" width="1" height="6.4" fill="#26a69a"/>
<rect x="522" y="79.2" width="1" height="3.1" fill="#26a69a"/>
<rect x="523" y="70.8" width="1" height="11.5" fill="#26a69a"/>
<rect x="524" y="68.4" width="1" height="10.3" fill="#ef5350"/>
<rect x="525" y="72.6" width="1" height="6.7" fill="#26a69a"/>
<rect x="526" y="70.4" width="1" height="6.8" fill="#26a69a"/>
<rect x="527" y="67.0" width="1" height="7.0" fill="#26a69a"/>
<rect x="528" y="69.4" width="1" height="7.7" fill="#ef5350"/>
<rect x="529" y="71.6" width="1" height="5.5" fill="#26a69a"/>
<rect x="530" y="73.5" width="1" height="11.2" fill="#ef5350"/>
<rect x="531" y="74.4" width="1" height="6.3" fill="#26a69a"/>
<rect x="532" y="76.4" width="1" height="6.1" fill="#ef5350"/>
<rect x="533" y="80.7" width="1" height="3.0" fill="#ef5350"/>
<rect x="534" y="82.6" width="1" height="11.7" fill="#ef5350"/>
<rect x="535" y="85.3" width="1" height="11.8" fill="#ef5350"/>
<rect x="536" y="93.7" width="1" height="2.2" fill="#ef5350"/>
<rect x="537" y="94.6" width="1" height="2.5" fill="#26a69a"/>
<rect x="538" y="93.4" width="1" height="7.4" fill="#ef5350"/>
<rect x="539" y="91.4" width="1" height="9.4" fill="#26a69a"/>
<rect x="540" y="88.7" width="1" height="8.9" fill="#ef5350"/>
<rect x="541" y="91.5" width="1" height="7.4" fill="#ef5350"/>
<rect x="542" y="87.0" width="1" height="9.1" fill="#26a69a"/>
<rect x="543" y="83.7" width="1" height="5.2" fill="#26a69a"/>
<rect x="544" y="74.7" width="1" height="12.6" fill="#26a69a"/>
<rect x="545" y="77.6" width="1" height="2.7" fill="#ef5350"/>
<rect x="546" y="68.5" width="1" height="15.4" fill="#26a69a"/>
<rect x="547" y="68.2" width="1" height="8.0" fill="#ef5350"/>
<rect x="548" y="63.3" width="1" height="10.9" fill="#26a69a"/>
<rect x="549" y="61.6" width="1" height="8.2" fill="#26a69a"/>
<rect x="550" y="63.5" width="1" height="8.3" fill="#ef5350"/>
<rect x="551" y="57.2" width="1" height="15.1" fill="#26a69a"/>
<rect x="552" y="58.1" width="1" height="7.7" fill="#26a69a"/>
<rect x="553" y="58.0" width="1" height="9.4" fill="#ef5350"/>
<rect x="554" y="61.0" width="1" height="10.3" fill="#26a69a"/>
<rect x="555" y="59.6" width="1" height="6.7" fill="#ef5350"/>
<rect x="556" y="52.4" width="1" height="12.2" fill="#26a69a"/>
<rect x="557" y="53.6" width="1" height="4.8" fill="#ef5350"/>
<rect x="558" y="56.4" width="1" height="5.6" fill="#ef5350"/>
<rect x="559" y="55.4" width="1" height="5.8" fill="#26a69a"/>
<rect x="560" y="55.4" width="1" height="11.2" fill="#ef5350"/>
<rect x="561" y="61.3" width="1" height="6.8" fill="#26a69a"/>
<rect x="562" y="55.3" width="1" height="9.3" fill="#26a69a"/>
<rect x="563" y="54.7" width="1" height="6.5" fill="#26a69a"/>
<rect x="564" y="52.1" width="1" height="7.9" fill="#26a69a"/>
<rect x="565" y="49.3" width="1" height="8.3" fill="#26a69a"/>
<rect x="566" y="48.2" width="1" height="4.1" fill="#26a69a"/>
<rect x="567" y="47.9" width="1" height="8.0" fill="#ef5350"/>
<rect x="568" y="51.5" width="1" height="4.7" fill="#ef5350"/>
<rect x="569" y="49.1" width="1" height="8.8" fill="#26a69a"/>
<rect x="570" y="51.2" width="1" height="10.6" fill="#ef5350"/>
<rect x="571" y="58.1" width="1" height="4.3" fill="#ef5350"/>
<rect x="572" y="51.7" width="1" height="11.2" fill="#26a69a"/>
<rect x="573" y="49.6" width="1" height="7.2" fill="#26a69a"/>
<rect x="574" y="47.4" width="1" height="7.1" fill="#26a69a"/>
<rect x="575" y="42.7" width="1" height="7.7" fill="#26a69a"/>
<rect x="576" y="41.4" width="1" height="6.0" fill="#26a69a"/>
<rect x="577" y="38.0" width="1" height="5.3" fill="#26a69a"/>
<rect x="578" y="37.1" width="1" height="7.4" fill="#ef5350"/>
<rect x="579" y="31.4" width="1" height="12.1" fill="#26a69a"/>
<rect x="580" y="30.6" width="1" height="6.2" fill="#26a69a"/>
<rect x="581" y="27.2" width="1" height="10.8" fill="#26a69a"/>
<rect x="582" y="28.9" width="1" height="3.7" fill="#ef5350"/>
<rect x="583" y="31.0" width="1" height="3.4" fill="#ef5350"/>
<rect x="584" y="29.2" width="1" height="9.3" fill="#26a69a"/>
<rect x="585" y="30.0" width="1" height="6.8" fill="#ef5350"/>
<rect x="586" y="33.3" width="1" height="6.7" fill="#26a69a"/>
<rect x="587" y="34.3" width="1" height="8.3" fill="#ef5350"/>
<rect x="588" y="29.8" width="1" height="11.3" fill="#26a69a"/>
<rect x="589" y="32.2" width="1" height="2.4" fill="#26a69a"/>
<rect x="590" y="32.0" width="1" height="6.8" fill="#ef5350"/>
<rect x="591" y="31.4" width="1" height="9.1" fill="#26a69a"/>
<rect x="592" y="29.2" width="1" height="3.7" fill="#ef5350"/>
<rect x="593" y="26.2" width="1" height="9.1" fill="#26a69a"/>
<rect x="594" y="19.0" width="1" height="9.4" fill="#26a69a"/>
<rect x="595" y="23.0" width="1" height="6.9" fill="#ef5350"/>
<rect x="596" y="21.7" width="1" height="6.4" fill="#26a69a"/>
<rect x="597" y="21.8" width="1" height="3.1" fill="#ef5350"/>
<rect x="598" y="22.4" width="1" height="4.9" fill="#ef5350"/>
<rect x="599" y="25.6" width="1" height="2.7" fill="#ef5350"/>
<rect x="600" y="26.4" width="1" height="1.2" fill="#ef5350"/>
<rect x="601" y="21.3" width="1" height="7.0" fill="#26a69a"/>
<rect x="602" y="21.2" width="1" height="9.3" fill="#ef5350"/>
<rect x="603" y="22.7" width="1" height="6.8" fill="#26a69a"/>
<rect x="604" y="21.5" width="1" height="8.7" fill="#ef5350"/>
<rect x="605" y="26.2" width="1" height="3.0" fill="#26a69a"/>
<rect x="606" y="25.9" width="1" height="10.2" fill="#ef5350"/>
<rect x="607" y="34.6" width="1" height="6.2" fill="#ef5350"/>
<rect x="608" y="36.9" width="1" height="11.7" fill="#ef5350"/>
<rect x="609" y="45.1" width="1" height="5.7" fill="#ef5350"/>
<rect x="610" y="46.2" width="1" height="11.8" fill="#ef5350"/>
<rect x="611" y="54.5" width="1" height="32.2" fill="#ef5350"/>
<rect x="612" y="77.5" width="1" height="16.0" fill="#ef5350"/>
<rect x="613" y="73.3" width="1" height="16.3" fill="#26a69a"/>
<rect x="614" y="68.7" width="1" height="14.2" fill="#26a69a"/>
<rect x="615" y="69.4" width="1" height="4.1" fill="#26a69a"/>
<rect x="616" y="61.4" width="1" height="19.4" fill="#ef5350"/>
<rect x="617" y="69.7" width="1" height="17.3" fill="#ef5350"/>
<rect x="618" y="83.8" width="1" height="9.0" fill="#ef5350"/>
<rect x="619" y="90.9" width="1" height="5.6" fill="#ef5350"/>
<rect x="620" y="92.2" width="1" height="14.1" fill="#ef5350"/>
<rect x="621" y="103.0" width="1" height="16.6" fill="#ef5350"/>
<rect x="622" y="110.4" width="1" height="20.6" fill="#ef5350"/>
<rect x="623" y="124.7" width="1" height="4.8" fill="#26a69a"/>
<rect x="624" y="100.7" width="1" height="27.3" fill="#26a69a"/>
<rect x="625" y="95.5" width="1" height="13.2" fill="#26a69a"/>
<rect x="626" y="87.7" width="1" height="10.4" fill="#26a69a"/>
<rect x="627" y="85.8" width="1" height="10.1" fill="#ef5350"/>
<rect x="628" y="81.0" width="1" height="11.1" fill="#26a69a"/>
<rect x="629" y="81.4" width="1" height="9.7" fill="#26a69a"/>
<rect x="630" y="70.6" width="1" height="13.3" fill="#26a69a"/>
<rect x="631" y="64.3" width="1" height="15.3" fill="#26a69a"/>
<rect x="632" y="68.9" width="1" height="14.9" fill="#ef5350"/>
<rect x="633" y="76.9" width="1" height="9.5" fill="#ef5350"/>
<rect x="634" y="76.1" width="1" height="17.5" fill="#ef5350"/>
<rect x="635" y="87.4" width="1" height="13.4" fill="#ef5350"/>
<rect x="636" y="96.0" width="1" height="13.5" fill="#ef5350"/>
<rect x="637" y="99.3" width="1" height="12.9" fill="#ef5350"/>
<rect x="638" y="99.3" width="1" height="18.1" fill="#ef5350"/>
<rect x="639" y="108.8" width="1" height="16.2" fill="#ef5350"/>
<rect x="640" y="113.1" width="1" height="11.9" fill="#26a69a"/>
<rect x="641" y="100.8" width="1" height="16.5" fill="#26a69a"/>
<rect x="642" y="98.7" width="1" height="10.8" fill="#26a69a"/>
<rect x="643" y="91.2" width="1" height="10.1" fill="#26a69a"/>
<rect x="644" y="80.5" width="1" height="14.0" fill="#26a69a"/>
<rect x="645" y="83.8" width="1" height="7.7" fill="#26a69a"/>
<rect x="646" y="81.6" width="1" height="8.2" fill="#26a69a"/>
<rect x="647" y="70.4" width="1" height="14.3" fill="#26a69a"/>
<rect x="648" y="66.1" width="1" height="26.1" fill="#ef5350"/>
<rect x="649" y="84.6" width="1" height="21.1" fill="#ef5350"/>
<rect x="650" y="102.8" width="1" height="29.4" fill="#ef5350"/>
<rect x="651" y="121.1" width="1" height="13.6" fill="#26a69a"/>
<rect x="652" y="115.5" width="1" height="13.3" fill="#26a69a"/>
<rect x="653" y="111.7" width="1" height="17.5" fill="#26a69a"/>
<rect x="654" y="113.5" width="1" height="9.8" fill="#ef5350"/>
<rect x="655" y="112.0" width="1" height="23.1" fill="#ef5350"/>
<rect x="656" y="124.6" width="1" height="18.8" fill="#ef5350"/>
<rect x="657" y="131.7" width="1" height="31.3" fill="#ef5350"/>
<rect x="658" y="148.9" width="1" height="22.0" fill="#ef5350"/>
<rect x="659" y="162.3" width="1" height="7.8" fill="#ef5350"/>
<rect x="660" y="165.2" width="1" height="32.0" fill="#ef5350"/>
<rect x="661" y="193.9" width="1" height="29.9" fill="#ef5350"/>
<rect x="662" y="203.0" width="1" height="22.3" fill="#26a69a"/>
<rect x="663" y="177.1" width="1" height="27.2" fill="#26a69a"/>
<rect x="664" y="178.0" width="1" height="7.7" fill="#ef5350"/>
<rect x="665" y="171.3" width="1" height="17.0" fill="#26a69a"/>
<rect x="666" y="173.7" width="1" height="8.3" fill="#ef5350"/>
<rect x="667" y="172.4" width="1" height="10.6" fill="#26a69a"/>
<rect x="668" y="153.5" width="1" height="23.3" fill="#26a69a"/>
<rect x="669" y="147.4" width="1" height="9.8" fill="#26a69a"/>
<rect x="670" y="149.0" width="1" height="5.5" fill="#26a69a"/>
<rect x="671" y="144.2" width="1" height="10.4" fill="#26a69a"/>
<rect x="672" y="141.7" width="1" height="7.7" fill="#26a69a"/>
<rect x="673" y="136.6" width="1" height="7.6" fill="#26a69a"/>
<rect x="674" y="131.8" width="1" height="9.0" fill="#26a69a"/>
<rect x="675" y="131.0" width="1" height="5.9" fill="#26a69a"/>
<rect x="676" y="126.8" width="1" height="8.6" fill="#26a69a"/>
<rect x="677" y="113.6" width="1" height="19.2" fill="#26a69a"/>
<rect x="678" y="111.7" width="1" height="13.1" fill="#26a69a"/>
<rect x="679" y="114.4" width="1" height="12.9" fill="#ef5350"/>
<rect x="680" y="120.7" width="1" height="6.6" fill="#ef5350"/>
<rect x="681" y="121.7" width="1" height="8.9" fill="#ef5350"/>
<rect x="682" y="122.0" width="1" height="6.9" fill="#26a69a"/>
<rect x="683" y="110.4" width="1" height="14.2" fill="#26a69a"/>
<rect x="684" y="98.1" width="1" height="19.4" fill="#26a69a"/>
<rect x="685" y="108.9" width="1" height="3.5" fill="#ef5350"/>
<rect x="686" y="101.6" width="1" height="13.1" fill="#26a69a"/>
<rect x="687" y="93.2" width="1" height="14.1" fill="#26a69a"/>
<rect x="688" y="93.7" width="1" height="10.9" fill="#26a69a"/>
<rect x="689" y="93.6" width="1" height="5.5" fill="#ef5350"/>
<rect x="690" y="92.3" width="1" height="10.0" fill="#ef5350"/>
<rect x="691" y="93.7" width="1" height="7.4" fill="#26a69a"/>
<rect x="692" y="88.3" width="1" height="8.0" fill="#26a69a"/>
<rect x="693" y="86.3" width="1" height="12.7" fill="#26a69a"/>
<rect x="694" y="86.5" width="1" height="1.6" fill="#26a69a"/>
<rect x="695" y="81.7" width="1" height="10.4" fill="#26a69a"/>
<rect x="696" y="72.1" width="1" height="13.6" fill="#26a69a"/>
<rect x="697" y="70.9" width="1" height="10.4" fill="#ef5350"/>
<rect x="698" y="69.2" width="1" height="9.1" fill="#26a69a"/>
<rect x="699" y="70.6" width="1" height="3.9" fill="#ef5350"/>
<rect x="700" y="64.3" width="1" height="9.7" fill="#26a69a"/>
<rect x="701" y="65.3" width="1" height="8.9" fill="#ef5350"/>
<rect x="702" y="63.3" width="1" height="6.7" fill="#26a69a"/>
<rect x="703" y="61.3" width="1" height="9.2" fill="#ef5350"/>
<rect x="704" y="65.1" width="1" height="4.7" fill="#26a69a"/>
<rect x="705" y="63.1" width="1" height="8.1" fill="#ef5350"/>
<rect x="706" y="66.5" width="1" height="10.0" fill="#ef5350"/>
<rect x="707" y="70.5" width="1" height="3.6" fill="#ef5350"/>
<rect x="708" y="68.9" width="1" height="8.8" fill="#26a69a"/>
<rect x="709" y="61.5" width="1" height="15.8" fill="#ef5350"/>
<rect x="710" y="74.3" width="1" height="8.2" fill="#ef5350"/>
<rect x="711" y="68.0" width="1" height="16.1" fill="#26a69a"/>
<rect x="712" y="59.5" width="1" height="12.4" fill="#26a69a"/>
<rect x="713" y="60.8" width="1" height="5.5" fill="#26a69a"/>
<rect x="714" y="58.6" width="1" height="9.3" fill="#26a69a"/>
<rect x="715" y="55.3" width="1" height="6.4" fill="#26a69a"/>
<rect x="716" y="54.0" width="1" height="6.8" fill="#26a69a"/>
<rect x="717" y="50.9" width="1" height="5.9" fill="#ef5350"/>
<rect x="718" y="53.5" width="1" height="10.6" fill="#ef5350"/>
<rect x="719" y="57.9" width="1" height="2.4" fill="#ef5350"/>
</g>
<line x1="0" y1="65.5" x2="888" y2="65.5" stroke="#8c3438" stroke-width="1.6"/>
<line x1="0" y1="65.5" x2="888" y2="65.5" stroke="#f6c9c8" stroke-width="1" stroke-dasharray="1.2 1.4"/>
<rect x="0" y="364" width="932" height="2" fill="#6a6d7b"/>
<rect x="0" y="366" width="932" height="1" fill="#0a0c16"/>
<g stroke="#626673" stroke-width="1" shape-rendering="crispEdges">
<line x1="888.5" y1="0" x2="888.5" y2="550"/>
<line x1="0" y1="519.5" x2="932" y2="519.5"/>
<line x1="888" y1="31.5" x2="893" y2="31.5"/>
<line x1="888" y1="100.5" x2="893" y2="100.5"/>
<line x1="888" y1="135.5" x2="893" y2="135.5"/>
<line x1="888" y1="169.5" x2="893" y2="169.5"/>
<line x1="888" y1="203.5" x2="893" y2="203.5"/>
<line x1="888" y1="238.5" x2="893" y2="238.5"/>
<line x1="888" y1="272.5" x2="893" y2="272.5"/>
<line x1="888" y1="307.5" x2="893" y2="307.5"/>
<line x1="888" y1="340.5" x2="893" y2="340.5"/>
<line x1="888" y1="418.5" x2="893" y2="418.5"/>
<line x1="888" y1="474.5" x2="893" y2="474.5"/>
</g>
<polyline points="0.0,479.0 1.0,480.0 2.0,480.3 3.0,481.6 4.0,482.3 5.0,483.0 6.0,481.9 7.0,479.9 8.0,477.8 9.0,476.1 10.0,475.3 11.0,474.8 12.0,474.7 13.0,473.9 14.0,473.6 15.0,473.3 16.0,474.3 17.0,475.3 18.0,476.4 19.0,478.0 20.0,478.7 21.0,479.3 22.0,480.0 23.0,480.1 24.0,480.8 25.0,481.6 26.0,482.4 27.0,482.5 28.0,482.9 29.0,482.6 30.0,482.6 31.0,481.9 32.0,481.6 33.0,482.4 34.0,480.8 35.0,475.2 36.0,469.5 37.0,466.9 38.0,464.7 39.0,462.5 40.0,462.0 41.0,460.8 42.0,459.7 43.0,458.7 44.0,457.7 45.0,457.1 46.0,457.3 47.0,458.5 48.0,458.2 49.0,458.7 50.0,459.8 51.0,461.8 52.0,465.6 53.0,466.7 54.0,468.0 55.0,469.1 56.0,471.0 57.0,473.8 58.0,480.0 59.0,484.8 60.0,486.3 61.0,487.5 62.0,489.1 63.0,489.7 64.0,490.8 65.0,492.1 66.0,493.8 67.0,493.3 68.0,494.5 69.0,495.2 70.0,495.2 71.0,495.7 72.0,495.8 73.0,496.7 74.0,496.5 75.0,496.1 76.0,495.8 77.0,495.7 78.0,495.5 79.0,495.1 80.0,496.0 81.0,495.3 82.0,494.6 83.0,495.7 84.0,496.5 85.0,497.4 86.0,497.8 87.0,496.0 88.0,492.2 89.0,488.5 90.0,484.6 91.0,482.7 92.0,481.7 93.0,479.8 94.0,477.4 95.0,477.5 96.0,476.7 97.0,475.3 98.0,474.1 99.0,473.6 100.0,472.8 101.0,472.1 102.0,471.3 103.0,471.0 104.0,471.2 105.0,470.4 106.0,469.4 107.0,469.3 108.0,468.8 109.0,470.3 110.0,473.0 111.0,475.0 112.0,476.6 113.0,477.5 114.0,478.1 115.0,479.5 116.0,481.0 117.0,481.8 118.0,482.3 119.0,482.9 120.0,483.4 121.0,484.0 122.0,484.8 123.0,485.4 124.0,486.3 125.0,485.1 126.0,484.4 127.0,483.3 128.0,481.8 129.0,480.1 130.0,479.6 131.0,479.3 132.0,478.0 133.0,477.0 134.0,477.4 135.0,478.2 136.0,478.2 137.0,479.2 138.0,479.4 139.0,480.2 140.0,480.4 141.0,480.6 142.0,480.5 143.0,480.8 144.0,481.4 145.0,482.2 146.0,483.1 147.0,484.0 148.0,485.4 149.0,487.0 150.0,488.3 151.0,490.3 152.0,492.5 153.0,495.2 154.0,496.1 155.0,494.8 156.0,494.1 157.0,493.1 158.0,492.0 159.0,492.9 160.0,493.3 161.0,493.1 162.0,493.4 163.0,493.8 164.0,493.0 165.0,492.5 166.0,492.3 167.0,491.0 168.0,490.9 169.0,491.8 170.0,492.4 171.0,492.2 172.0,493.0 173.0,493.2 174.0,494.3 175.0,495.3 176.0,496.0 177.0,496.4 178.0,497.0 179.0,497.1 180.0,496.2 181.0,496.0 182.0,495.6 183.0,494.9 184.0,495.3 185.0,494.4 186.0,494.8 187.0,493.9 188.0,493.5 189.0,494.6 190.0,495.3 191.0,495.4 192.0,495.8 193.0,495.4 194.0,495.8 195.0,495.9 196.0,496.4 197.0,497.2 198.0,497.5 199.0,497.8 200.0,497.7 201.0,497.9 202.0,498.3 203.0,498.5 204.0,498.9 205.0,498.1 206.0,498.5 207.0,497.6 208.0,497.7 209.0,496.9 210.0,497.4 211.0,497.1 212.0,497.0 213.0,497.0 214.0,496.5 215.0,496.0 216.0,495.3 217.0,496.1 218.0,495.2 219.0,494.4 220.0,493.9 221.0,493.6 222.0,491.6 223.0,490.7 224.0,489.5 225.0,489.9 226.0,490.4 227.0,491.9 228.0,491.7 229.0,491.6 230.0,491.2 231.0,489.7 232.0,488.9 233.0,488.3 234.0,487.6 235.0,487.1 236.0,487.6 237.0,487.6 238.0,487.4 239.0,487.7 240.0,487.0 241.0,488.0 242.0,488.9 243.0,489.7 244.0,490.8 245.0,491.7 246.0,492.3 247.0,493.0 248.0,494.2 249.0,494.3 250.0,495.1 251.0,495.7 252.0,496.0 253.0,497.0 254.0,497.2 255.0,498.4 256.0,498.6 257.0,499.2 258.0,499.3 259.0,498.1 260.0,496.8 261.0,496.4 262.0,496.9 263.0,497.3 264.0,498.4 265.0,499.4 266.0,499.8 267.0,500.5 268.0,500.3 269.0,499.6 270.0,499.7 271.0,499.0 272.0,498.6 273.0,498.8 274.0,497.7 275.0,497.5 276.0,496.7 277.0,496.8 278.0,496.0 279.0,495.8 280.0,496.0 281.0,496.7 282.0,497.9 283.0,498.7 284.0,498.5 285.0,498.1 286.0,497.5 287.0,496.2 288.0,495.7 289.0,494.0 290.0,493.1 291.0,492.7 292.0,492.1 293.0,491.4 294.0,489.7 295.0,489.4 296.0,490.2 297.0,490.1 298.0,490.8 299.0,490.9 300.0,492.4 301.0,493.4 302.0,494.3 303.0,494.9 304.0,495.5 305.0,495.9 306.0,496.5 307.0,497.1 308.0,497.7 309.0,497.9 310.0,499.9 311.0,501.0 312.0,502.7 313.0,504.1 314.0,504.7 315.0,505.3 316.0,505.9 317.0,505.0 318.0,504.4 319.0,503.7 320.0,503.1 321.0,501.6 322.0,500.5 323.0,499.2 324.0,498.0 325.0,496.0 326.0,495.9 327.0,495.5 328.0,494.1 329.0,493.5 330.0,493.1 331.0,492.9 332.0,492.1 333.0,491.9 334.0,490.9 335.0,489.6 336.0,488.8 337.0,490.1 338.0,490.7 339.0,491.9 340.0,493.1 341.0,494.1 342.0,495.5 343.0,496.4 344.0,497.5 345.0,498.5 346.0,499.2 347.0,499.3 348.0,500.0 349.0,500.5 350.0,500.9 351.0,502.0 352.0,503.1 353.0,503.8 354.0,505.2 355.0,506.2 356.0,507.1 357.0,507.3 358.0,507.4 359.0,508.1 360.0,508.5 361.0,508.9 362.0,509.2 363.0,509.7 364.0,509.5 365.0,509.9 366.0,509.6 367.0,508.8 368.0,508.7 369.0,509.1 370.0,508.0 371.0,508.2 372.0,507.5 373.0,507.0 374.0,506.7 375.0,506.6 376.0,506.0 377.0,506.0 378.0,506.0 379.0,506.1 380.0,505.4 381.0,505.4 382.0,504.8 383.0,504.1 384.0,501.8 385.0,500.6 386.0,498.7 387.0,498.3 388.0,499.1 389.0,499.1 390.0,499.2 391.0,500.2 392.0,501.1 393.0,501.3 394.0,500.0 395.0,497.7 396.0,496.4 397.0,495.4 398.0,494.2 399.0,493.4 400.0,492.5 401.0,492.1 402.0,493.1 403.0,493.5 404.0,494.1 405.0,494.9 406.0,495.3 407.0,495.7 408.0,496.0 409.0,495.0 410.0,495.1 411.0,496.0 412.0,495.6 413.0,495.9 414.0,496.7 415.0,497.6 416.0,499.4 417.0,500.8 418.0,501.5 419.0,502.9 420.0,502.5 421.0,502.0 422.0,502.2 423.0,501.9 424.0,500.8 425.0,499.5 426.0,498.1 427.0,497.1 428.0,497.0 429.0,496.4 430.0,495.8 431.0,495.5 432.0,495.0 433.0,493.0 434.0,491.0 435.0,489.7 436.0,488.1 437.0,486.3 438.0,481.4 439.0,472.3 440.0,462.4 441.0,450.5 442.0,444.1 443.0,440.3 444.0,435.9 445.0,434.1 446.0,433.1 447.0,432.6 448.0,431.4 449.0,429.1 450.0,427.0 451.0,425.1 452.0,423.7 453.0,423.0 454.0,421.5 455.0,416.5 456.0,412.1 457.0,409.7 458.0,407.7 459.0,413.1 460.0,420.9 461.0,430.0 462.0,436.0 463.0,440.7 464.0,445.7 465.0,448.2 466.0,450.7 467.0,454.1 468.0,453.8 469.0,453.6 470.0,451.7 471.0,447.1 472.0,442.7 473.0,440.8 474.0,439.3 475.0,437.2 476.0,436.2 477.0,435.1 478.0,434.6 479.0,433.8 480.0,432.4 481.0,428.9 482.0,424.9 483.0,424.3 484.0,424.5 485.0,425.1 486.0,425.7 487.0,425.6 488.0,425.7 489.0,426.3 490.0,425.8 491.0,426.5 492.0,428.2 493.0,431.0 494.0,433.0 495.0,437.4 496.0,441.7 497.0,445.9 498.0,448.2 499.0,449.2 500.0,451.3 501.0,453.8 502.0,456.2 503.0,459.8 504.0,463.1 505.0,463.5 506.0,464.6 507.0,465.8 508.0,466.8 509.0,468.2 510.0,468.6 511.0,469.6 512.0,470.7 513.0,472.2 514.0,474.4 515.0,476.5 516.0,478.3 517.0,476.4 518.0,475.9 519.0,474.7 520.0,476.7 521.0,479.2 522.0,481.1 523.0,482.2 524.0,483.7 525.0,484.8 526.0,486.4 527.0,487.2 528.0,487.5 529.0,486.7 530.0,486.9 531.0,486.0 532.0,484.9 533.0,484.0 534.0,483.3 535.0,483.1 536.0,483.0 537.0,483.1 538.0,483.1 539.0,482.7 540.0,482.0 541.0,481.4 542.0,480.4 543.0,480.0 544.0,480.1 545.0,479.6 546.0,479.5 547.0,478.5 548.0,478.7 549.0,479.7 550.0,480.5 551.0,481.4 552.0,481.3 553.0,482.3 554.0,483.2 555.0,485.3 556.0,486.1 557.0,486.8 558.0,488.2 559.0,488.3 560.0,489.6 561.0,489.8 562.0,490.5 563.0,490.8 564.0,492.1 565.0,492.1 566.0,493.6 567.0,494.2 568.0,494.1 569.0,492.6 570.0,491.9 571.0,491.0 572.0,490.2 573.0,489.2 574.0,488.9 575.0,489.5 576.0,489.4 577.0,489.3 578.0,489.3 579.0,490.2 580.0,490.9 581.0,492.3 582.0,493.0 583.0,493.5 584.0,494.8 585.0,495.4 586.0,494.4 587.0,493.4 588.0,492.7 589.0,492.7 590.0,492.9 591.0,493.8 592.0,495.1 593.0,496.0 594.0,496.9 595.0,496.8 596.0,496.3 597.0,496.3 598.0,496.1 599.0,496.1 600.0,495.5 601.0,495.4 602.0,495.3 603.0,494.9 604.0,494.8 605.0,494.8 606.0,493.9 607.0,492.5 608.0,490.6 609.0,489.5 610.0,484.4 611.0,476.6 612.0,472.4 613.0,469.8 614.0,468.0 615.0,465.4 616.0,462.7 617.0,460.4 618.0,454.5 619.0,448.2 620.0,442.0 621.0,436.6 622.0,431.6 623.0,425.4 624.0,418.7 625.0,417.0 626.0,416.0 627.0,414.2 628.0,415.7 629.0,416.5 630.0,417.4 631.0,422.4 632.0,426.5 633.0,424.7 634.0,423.5 635.0,422.6 636.0,421.0 637.0,419.0 638.0,416.0 639.0,413.3 640.0,416.8 641.0,420.0 642.0,426.6 643.0,433.2 644.0,438.2 645.0,441.3 646.0,444.5 647.0,445.1 648.0,437.5 649.0,429.3 650.0,425.5 651.0,421.5 652.0,419.8 653.0,419.8 654.0,419.7 655.0,418.7 656.0,416.6 657.0,413.6 658.0,408.9 659.0,405.2 660.0,398.0 661.0,390.0 662.0,384.1 663.0,379.5 664.0,380.5 665.0,382.8 666.0,379.3 667.0,373.9 668.0,377.3 669.0,381.8 670.0,387.0 671.0,391.4 672.0,395.8 673.0,399.2 674.0,402.4 675.0,405.1 676.0,408.2 677.0,411.5 678.0,414.4 679.0,416.9 680.0,422.5 681.0,427.9 682.0,433.6 683.0,439.7 684.0,445.7 685.0,449.6 686.0,450.9 687.0,455.0 688.0,460.6 689.0,466.0 690.0,466.0 691.0,466.6 692.0,466.0 693.0,466.2 694.0,467.4 695.0,467.3 696.0,467.9 697.0,468.2 698.0,470.1 699.0,472.6 700.0,475.3 701.0,477.8 702.0,479.0 703.0,479.9 704.0,481.8 705.0,484.2 706.0,484.9 707.0,484.2 708.0,483.4 709.0,482.9 710.0,481.9 711.0,482.4 712.0,483.2 713.0,483.0 714.0,482.2 715.0,484.2 716.0,485.0 717.0,485.8 718.0,484.3 719.0,484.2 719.1,483.9" fill="none" stroke="#d4d82c" stroke-width="1.45" stroke-linejoin="round"/>
<rect x="889" y="56" width="43" height="19" fill="#ef5350"/>
<line x1="888" y1="65.5" x2="893" y2="65.5" stroke="#fff" stroke-width="1"/>
<g style="opacity:0.995">
<text y="24.2" font-family="'Liberation Sans', sans-serif" font-size="14.2" fill="#eef0f3" stroke="#eef0f3" stroke-width="0.6"><tspan x="6.9" textLength="25.9" lengthAdjust="spacingAndGlyphs">SPDR</tspan> <tspan x="36.0" textLength="38.6" lengthAdjust="spacingAndGlyphs">S&amp;P500</tspan> <tspan x="77.3" textLength="17.1" lengthAdjust="spacingAndGlyphs">ETF</tspan> <tspan x="97.1" textLength="31.6" lengthAdjust="spacingAndGlyphs">TRUST</tspan> <tspan x="131.9" textLength="20.7" lengthAdjust="spacingAndGlyphs">S&amp;P</tspan> <tspan x="155.5" textLength="17.1" lengthAdjust="spacingAndGlyphs">500</tspan> <tspan x="175.6" textLength="17.1" lengthAdjust="spacingAndGlyphs">ETF</tspan> <tspan x="195.9" textLength="20.6" lengthAdjust="spacingAndGlyphs">USD</tspan> <tspan x="220.0" textLength="18.8" lengthAdjust="spacingAndGlyphs">DIS,</tspan> <tspan x="242.3" textLength="16.1" lengthAdjust="spacingAndGlyphs">1D,</tspan> <tspan x="262.8" textLength="24.1" lengthAdjust="spacingAndGlyphs">Cboe</tspan> <tspan x="291.1" textLength="18.2" lengthAdjust="spacingAndGlyphs">BZX</tspan></text>
<text x="7" y="43.5" font-family="'Liberation Sans', sans-serif" font-size="13.6" font-weight="normal" fill="#d0d3da" text-anchor="start" textLength="36.5" lengthAdjust="spacingAndGlyphs" stroke="#d0d3da" stroke-width="0.25">Vol (20)</text>
<text x="7" y="390.1" font-family="'Liberation Sans', sans-serif" font-size="13.6" font-weight="normal" fill="#d0d3da" text-anchor="start" textLength="76.5" lengthAdjust="spacingAndGlyphs" stroke="#d0d3da" stroke-width="0.25">NATR (21, SMA)</text>
<text x="896" y="36.8" font-family="'Liberation Sans', sans-serif" font-size="13.3" font-weight="normal" fill="#e4e6ea" text-anchor="start" textLength="28.8" lengthAdjust="spacingAndGlyphs" stroke="#e4e6ea" stroke-width="0.5">290.00</text>
<text x="896" y="105.8" font-family="'Liberation Sans', sans-serif" font-size="13.3" font-weight="normal" fill="#e4e6ea" text-anchor="start" textLength="28.8" lengthAdjust="spacingAndGlyphs" stroke="#e4e6ea" stroke-width="0.5">270.00</text>
<text x="896" y="140.8" font-family="'Liberation Sans', sans-serif" font-size="13.3" font-weight="normal" fill="#e4e6ea" text-anchor="start" textLength="28.8" lengthAdjust="spacingAndGlyphs" stroke="#e4e6ea" stroke-width="0.5">260.00</text>
<text x="896" y="174.8" font-family="'Liberation Sans', sans-serif" font-size="13.3" font-weight="normal" fill="#e4e6ea" text-anchor="start" textLength="28.8" lengthAdjust="spacingAndGlyphs" stroke="#e4e6ea" stroke-width="0.5">250.00</text>
<text x="896" y="208.8" font-family="'Liberation Sans', sans-serif" font-size="13.3" font-weight="normal" fill="#e4e6ea" text-anchor="start" textLength="28.8" lengthAdjust="spacingAndGlyphs" stroke="#e4e6ea" stroke-width="0.5">240.00</text>
<text x="896" y="243.8" font-family="'Liberation Sans', sans-serif" font-size="13.3" font-weight="normal" fill="#e4e6ea" text-anchor="start" textLength="28.8" lengthAdjust="spacingAndGlyphs" stroke="#e4e6ea" stroke-width="0.5">230.00</text>
<text x="896" y="277.8" font-family="'Liberation Sans', sans-serif" font-size="13.3" font-weight="normal" fill="#e4e6ea" text-anchor="start" textLength="28.8" lengthAdjust="spacingAndGlyphs" stroke="#e4e6ea" stroke-width="0.5">220.00</text>
<text x="896" y="312.8" font-family="'Liberation Sans', sans-serif" font-size="13.3" font-weight="normal" fill="#e4e6ea" text-anchor="start" textLength="28.8" lengthAdjust="spacingAndGlyphs" stroke="#e4e6ea" stroke-width="0.5">210.00</text>
<text x="896" y="345.8" font-family="'Liberation Sans', sans-serif" font-size="13.3" font-weight="normal" fill="#e4e6ea" text-anchor="start" textLength="28.8" lengthAdjust="spacingAndGlyphs" stroke="#e4e6ea" stroke-width="0.5">200.00</text>
<text x="896" y="69.7" font-family="'Liberation Sans', sans-serif" font-size="13.3" font-weight="bold" fill="#ffffff" text-anchor="start" textLength="28.8" lengthAdjust="spacingAndGlyphs">280.36</text>
<text x="896" y="423.7" font-family="'Liberation Sans', sans-serif" font-size="13.3" font-weight="normal" fill="#e4e6ea" text-anchor="start" textLength="29" lengthAdjust="spacingAndGlyphs" stroke="#e4e6ea" stroke-width="0.5">2.0000</text>
<text x="896" y="479.7" font-family="'Liberation Sans', sans-serif" font-size="13.3" font-weight="normal" fill="#e4e6ea" text-anchor="start" textLength="29" lengthAdjust="spacingAndGlyphs" stroke="#e4e6ea" stroke-width="0.5">1.0000</text>
<text x="75.6" y="541" font-family="'Liberation Sans', sans-serif" font-size="13.3" font-weight="bold" fill="#e4e6ea" text-anchor="start" textLength="17.4" lengthAdjust="spacingAndGlyphs">Sep</text>
<text x="157.2" y="541" font-family="'Liberation Sans', sans-serif" font-size="13.3" font-weight="bold" fill="#e4e6ea" text-anchor="start" textLength="20.8" lengthAdjust="spacingAndGlyphs">2017</text>
<text x="238.8" y="541" font-family="'Liberation Sans', sans-serif" font-size="13.3" font-weight="bold" fill="#e4e6ea" text-anchor="start" textLength="18.4" lengthAdjust="spacingAndGlyphs">May</text>
<text x="326.2" y="541" font-family="'Liberation Sans', sans-serif" font-size="13.3" font-weight="bold" fill="#e4e6ea" text-anchor="start" textLength="17.4" lengthAdjust="spacingAndGlyphs">Sep</text>
<text x="406.6" y="541" font-family="'Liberation Sans', sans-serif" font-size="13.3" font-weight="bold" fill="#e4e6ea" text-anchor="start" textLength="20.8" lengthAdjust="spacingAndGlyphs">2018</text>
<text x="488.7" y="541" font-family="'Liberation Sans', sans-serif" font-size="13.3" font-weight="bold" fill="#e4e6ea" text-anchor="start" textLength="18.4" lengthAdjust="spacingAndGlyphs">May</text>
<text x="577.0" y="541" font-family="'Liberation Sans', sans-serif" font-size="13.3" font-weight="bold" fill="#e4e6ea" text-anchor="start" textLength="17.4" lengthAdjust="spacingAndGlyphs">Sep</text>
<text x="656.4" y="541" font-family="'Liberation Sans', sans-serif" font-size="13.3" font-weight="bold" fill="#e4e6ea" text-anchor="start" textLength="20.8" lengthAdjust="spacingAndGlyphs">2019</text>
<text x="739.6999999999999" y="541" font-family="'Liberation Sans', sans-serif" font-size="13.3" font-weight="bold" fill="#e4e6ea" text-anchor="start" textLength="18.4" lengthAdjust="spacingAndGlyphs">May</text>
<text x="806.3" y="541" font-family="'Liberation Sans', sans-serif" font-size="13.3" font-weight="bold" fill="#e4e6ea" text-anchor="start" textLength="17.4" lengthAdjust="spacingAndGlyphs">Aug</text>
</g>
</svg>
</body></html>
